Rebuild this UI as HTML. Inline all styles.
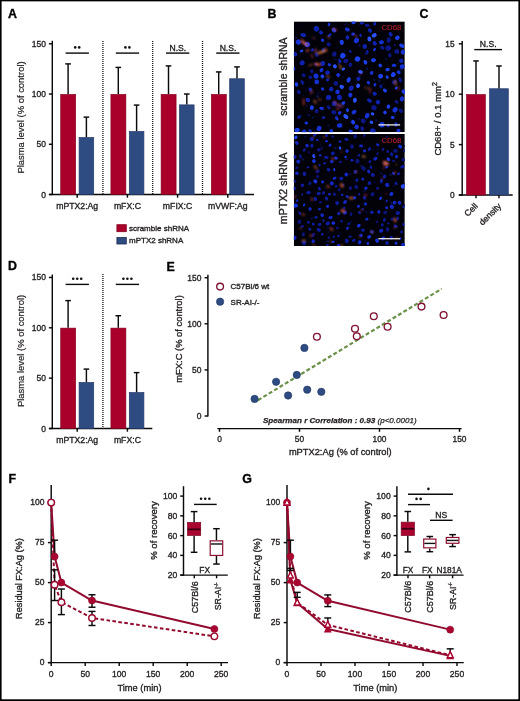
<!DOCTYPE html>
<html><head><meta charset="utf-8"><title>Figure</title>
<style>
html,body{margin:0;padding:0;background:#fff;}
body{width:520px;height:701px;overflow:hidden;}
svg{display:block;will-change:transform;font-family:"Liberation Sans", sans-serif;}
</style></head><body>
<svg width="520" height="701" viewBox="0 0 520 701">
<defs>
<filter id="bl" x="-10%" y="-10%" width="120%" height="120%"><feGaussianBlur stdDeviation="0.55"/></filter>
<filter id="bl2" x="-10%" y="-10%" width="120%" height="120%"><feGaussianBlur stdDeviation="0.9"/></filter>
<filter id="bl3" x="-10%" y="-10%" width="120%" height="120%"><feGaussianBlur stdDeviation="1.5"/></filter>
<clipPath id="clip1"><rect x="293.8" y="21.4" width="111" height="110.8"/></clipPath>
<clipPath id="clip2"><rect x="293.8" y="134.0" width="111" height="112"/></clipPath>
</defs>
<text x="8.1" y="18.1" font-size="12.4" text-anchor="start" font-weight="bold" fill="#000" stroke="#000" stroke-width="0.34">A</text>
<text x="267.5" y="18.1" font-size="12.4" text-anchor="start" font-weight="bold" fill="#000" stroke="#000" stroke-width="0.34">B</text>
<text x="419.5" y="18.1" font-size="12.4" text-anchor="start" font-weight="bold" fill="#000" stroke="#000" stroke-width="0.34">C</text>
<text x="8.1" y="270.3" font-size="12.4" text-anchor="start" font-weight="bold" fill="#000" stroke="#000" stroke-width="0.34">D</text>
<text x="166.6" y="271" font-size="12.4" text-anchor="start" font-weight="bold" fill="#000" stroke="#000" stroke-width="0.34">E</text>
<text x="8.6" y="483" font-size="12.4" text-anchor="start" font-weight="bold" fill="#000" stroke="#000" stroke-width="0.34">F</text>
<text x="242.3" y="483" font-size="12.4" text-anchor="start" font-weight="bold" fill="#000" stroke="#000" stroke-width="0.34">G</text>
<line x1="52.3" y1="40.8" x2="52.3" y2="195.1" stroke="#0a0a0a" stroke-width="1.45" stroke-linecap="butt"/>
<line x1="48.9" y1="194.5" x2="52.3" y2="194.5" stroke="#0a0a0a" stroke-width="1.45" stroke-linecap="butt"/>
<text x="45.9" y="197.5" font-size="8.5" text-anchor="end" font-weight="normal" fill="#231f20" stroke="#231f20" stroke-width="0.34">0</text>
<line x1="48.9" y1="144.26" x2="52.3" y2="144.26" stroke="#0a0a0a" stroke-width="1.45" stroke-linecap="butt"/>
<text x="45.9" y="147.26" font-size="8.5" text-anchor="end" font-weight="normal" fill="#231f20" stroke="#231f20" stroke-width="0.34">50</text>
<line x1="48.9" y1="94.03" x2="52.3" y2="94.03" stroke="#0a0a0a" stroke-width="1.45" stroke-linecap="butt"/>
<text x="45.9" y="97.03" font-size="8.5" text-anchor="end" font-weight="normal" fill="#231f20" stroke="#231f20" stroke-width="0.34">100</text>
<line x1="48.9" y1="43.8" x2="52.3" y2="43.8" stroke="#0a0a0a" stroke-width="1.45" stroke-linecap="butt"/>
<text x="45.9" y="46.8" font-size="8.5" text-anchor="end" font-weight="normal" fill="#231f20" stroke="#231f20" stroke-width="0.34">150</text>
<line x1="48.9" y1="194.5" x2="254" y2="194.5" stroke="#0a0a0a" stroke-width="1.45" stroke-linecap="butt"/>
<rect x="60.7" y="94.33" width="15" height="100.17" fill="#a8002a" stroke="#85001f" stroke-width="0.6"/>
<rect x="79.1" y="137.53" width="14.6" height="56.97" fill="#2f4c82" stroke="#24396a" stroke-width="0.7"/>
<line x1="68.1" y1="94.03" x2="68.1" y2="63.89" stroke="#0a0a0a" stroke-width="1.45" stroke-linecap="butt"/>
<line x1="65.3" y1="63.89" x2="70.9" y2="63.89" stroke="#0a0a0a" stroke-width="1.45" stroke-linecap="butt"/>
<line x1="86.4" y1="137.23" x2="86.4" y2="117.14" stroke="#0a0a0a" stroke-width="1.45" stroke-linecap="butt"/>
<line x1="83.6" y1="117.14" x2="89.2" y2="117.14" stroke="#0a0a0a" stroke-width="1.45" stroke-linecap="butt"/>
<line x1="77.2" y1="194.5" x2="77.2" y2="197.7" stroke="#0a0a0a" stroke-width="1.45" stroke-linecap="butt"/>
<text x="77.2" y="209.1" font-size="8.7" text-anchor="middle" font-weight="normal" fill="#231f20" stroke="#231f20" stroke-width="0.34">mPTX2:Ag</text>
<line x1="65.6" y1="53.1" x2="88.9" y2="53.1" stroke="#0a0a0a" stroke-width="1.4" stroke-linecap="butt"/>
<circle cx="75.2" cy="47.4" r="1.3" fill="#111"/>
<circle cx="79.2" cy="47.4" r="1.3" fill="#111"/>
<line x1="102.9" y1="41" x2="102.9" y2="194.5" stroke="#111" stroke-width="1.3" stroke-linecap="butt" stroke-dasharray="1 1"/>
<rect x="110.9" y="94.33" width="15" height="100.17" fill="#a8002a" stroke="#85001f" stroke-width="0.6"/>
<rect x="129.3" y="131.5" width="14.6" height="63" fill="#2f4c82" stroke="#24396a" stroke-width="0.7"/>
<line x1="118.3" y1="94.03" x2="118.3" y2="67.41" stroke="#0a0a0a" stroke-width="1.45" stroke-linecap="butt"/>
<line x1="115.5" y1="67.41" x2="121.1" y2="67.41" stroke="#0a0a0a" stroke-width="1.45" stroke-linecap="butt"/>
<line x1="136.6" y1="131.2" x2="136.6" y2="105.08" stroke="#0a0a0a" stroke-width="1.45" stroke-linecap="butt"/>
<line x1="133.8" y1="105.08" x2="139.4" y2="105.08" stroke="#0a0a0a" stroke-width="1.45" stroke-linecap="butt"/>
<line x1="127.4" y1="194.5" x2="127.4" y2="197.7" stroke="#0a0a0a" stroke-width="1.45" stroke-linecap="butt"/>
<text x="127.4" y="209.1" font-size="8.7" text-anchor="middle" font-weight="normal" fill="#231f20" stroke="#231f20" stroke-width="0.34">mFX:C</text>
<line x1="115.8" y1="53.1" x2="139.1" y2="53.1" stroke="#0a0a0a" stroke-width="1.4" stroke-linecap="butt"/>
<circle cx="125.4" cy="47.4" r="1.3" fill="#111"/>
<circle cx="129.4" cy="47.4" r="1.3" fill="#111"/>
<line x1="152.7" y1="41" x2="152.7" y2="194.5" stroke="#111" stroke-width="1.3" stroke-linecap="butt" stroke-dasharray="1 1"/>
<rect x="161.1" y="94.33" width="15" height="100.17" fill="#a8002a" stroke="#85001f" stroke-width="0.6"/>
<rect x="179.5" y="104.88" width="14.6" height="89.62" fill="#2f4c82" stroke="#24396a" stroke-width="0.7"/>
<line x1="168.5" y1="94.03" x2="168.5" y2="65.9" stroke="#0a0a0a" stroke-width="1.45" stroke-linecap="butt"/>
<line x1="165.7" y1="65.9" x2="171.3" y2="65.9" stroke="#0a0a0a" stroke-width="1.45" stroke-linecap="butt"/>
<line x1="186.8" y1="104.58" x2="186.8" y2="94.03" stroke="#0a0a0a" stroke-width="1.45" stroke-linecap="butt"/>
<line x1="184" y1="94.03" x2="189.6" y2="94.03" stroke="#0a0a0a" stroke-width="1.45" stroke-linecap="butt"/>
<line x1="177.6" y1="194.5" x2="177.6" y2="197.7" stroke="#0a0a0a" stroke-width="1.45" stroke-linecap="butt"/>
<text x="177.6" y="209.1" font-size="8.7" text-anchor="middle" font-weight="normal" fill="#231f20" stroke="#231f20" stroke-width="0.34">mFIX:C</text>
<line x1="166" y1="53.1" x2="189.3" y2="53.1" stroke="#0a0a0a" stroke-width="1.4" stroke-linecap="butt"/>
<text x="177.8" y="50.6" font-size="8.6" text-anchor="middle" font-weight="normal" fill="#231f20" stroke="#231f20" stroke-width="0.34">N.S.</text>
<line x1="202.5" y1="41" x2="202.5" y2="194.5" stroke="#111" stroke-width="1.3" stroke-linecap="butt" stroke-dasharray="1 1"/>
<rect x="211.3" y="94.33" width="15" height="100.17" fill="#a8002a" stroke="#85001f" stroke-width="0.6"/>
<rect x="229.7" y="78.76" width="14.6" height="115.74" fill="#2f4c82" stroke="#24396a" stroke-width="0.7"/>
<line x1="218.7" y1="94.03" x2="218.7" y2="71.93" stroke="#0a0a0a" stroke-width="1.45" stroke-linecap="butt"/>
<line x1="215.9" y1="71.93" x2="221.5" y2="71.93" stroke="#0a0a0a" stroke-width="1.45" stroke-linecap="butt"/>
<line x1="237" y1="78.46" x2="237" y2="66.9" stroke="#0a0a0a" stroke-width="1.45" stroke-linecap="butt"/>
<line x1="234.2" y1="66.9" x2="239.8" y2="66.9" stroke="#0a0a0a" stroke-width="1.45" stroke-linecap="butt"/>
<line x1="227.8" y1="194.5" x2="227.8" y2="197.7" stroke="#0a0a0a" stroke-width="1.45" stroke-linecap="butt"/>
<text x="227.8" y="209.1" font-size="8.7" text-anchor="middle" font-weight="normal" fill="#231f20" stroke="#231f20" stroke-width="0.34">mVWF:Ag</text>
<line x1="216.2" y1="53.1" x2="239.5" y2="53.1" stroke="#0a0a0a" stroke-width="1.4" stroke-linecap="butt"/>
<text x="228" y="50.6" font-size="8.6" text-anchor="middle" font-weight="normal" fill="#231f20" stroke="#231f20" stroke-width="0.34">N.S.</text>
<rect x="116.9" y="224.7" width="9.4" height="7" fill="#a8002a" stroke="#85001f" stroke-width="0.8"/>
<rect x="116.9" y="237.5" width="9.4" height="6.5" fill="#2f4c82" stroke="#1c2d55" stroke-width="0.8"/>
<text x="129" y="230.7" font-size="8" text-anchor="start" font-weight="normal" fill="#231f20" stroke="#231f20" stroke-width="0.34">scramble shRNA</text>
<text x="129" y="242.6" font-size="8" text-anchor="start" font-weight="normal" fill="#231f20" stroke="#231f20" stroke-width="0.34">mPTX2 shRNA</text>
<text x="24.4" y="117.5" font-size="9.45" text-anchor="middle" font-weight="normal" fill="#231f20" stroke="#231f20" stroke-width="0.2" transform="rotate(-90 24.4 117.5)">Plasma level (% of control)</text>
<line x1="52.3" y1="274.5" x2="52.3" y2="429.1" stroke="#0a0a0a" stroke-width="1.45" stroke-linecap="butt"/>
<line x1="48.9" y1="428.5" x2="52.3" y2="428.5" stroke="#0a0a0a" stroke-width="1.45" stroke-linecap="butt"/>
<text x="45.9" y="431.5" font-size="8.5" text-anchor="end" font-weight="normal" fill="#231f20" stroke="#231f20" stroke-width="0.34">0</text>
<line x1="48.9" y1="378.15" x2="52.3" y2="378.15" stroke="#0a0a0a" stroke-width="1.45" stroke-linecap="butt"/>
<text x="45.9" y="381.15" font-size="8.5" text-anchor="end" font-weight="normal" fill="#231f20" stroke="#231f20" stroke-width="0.34">50</text>
<line x1="48.9" y1="327.8" x2="52.3" y2="327.8" stroke="#0a0a0a" stroke-width="1.45" stroke-linecap="butt"/>
<text x="45.9" y="330.8" font-size="8.5" text-anchor="end" font-weight="normal" fill="#231f20" stroke="#231f20" stroke-width="0.34">100</text>
<line x1="48.9" y1="277.45" x2="52.3" y2="277.45" stroke="#0a0a0a" stroke-width="1.45" stroke-linecap="butt"/>
<text x="45.9" y="280.45" font-size="8.5" text-anchor="end" font-weight="normal" fill="#231f20" stroke="#231f20" stroke-width="0.34">150</text>
<line x1="48.9" y1="428.5" x2="152.3" y2="428.5" stroke="#0a0a0a" stroke-width="1.45" stroke-linecap="butt"/>
<rect x="60.7" y="328.1" width="15" height="100.4" fill="#a8002a" stroke="#85001f" stroke-width="0.6"/>
<rect x="79.1" y="382.48" width="14.6" height="46.02" fill="#2f4c82" stroke="#24396a" stroke-width="0.7"/>
<line x1="68.1" y1="327.8" x2="68.1" y2="300.61" stroke="#0a0a0a" stroke-width="1.45" stroke-linecap="butt"/>
<line x1="65.3" y1="300.61" x2="70.9" y2="300.61" stroke="#0a0a0a" stroke-width="1.45" stroke-linecap="butt"/>
<line x1="86.4" y1="382.18" x2="86.4" y2="369.09" stroke="#0a0a0a" stroke-width="1.45" stroke-linecap="butt"/>
<line x1="83.6" y1="369.09" x2="89.2" y2="369.09" stroke="#0a0a0a" stroke-width="1.45" stroke-linecap="butt"/>
<line x1="77.2" y1="428.5" x2="77.2" y2="431.7" stroke="#0a0a0a" stroke-width="1.45" stroke-linecap="butt"/>
<text x="77.2" y="443.3" font-size="8.7" text-anchor="middle" font-weight="normal" fill="#231f20" stroke="#231f20" stroke-width="0.34">mPTX2:Ag</text>
<line x1="65.6" y1="284.4" x2="88.9" y2="284.4" stroke="#0a0a0a" stroke-width="1.4" stroke-linecap="butt"/>
<circle cx="73.2" cy="278.7" r="1.3" fill="#111"/>
<circle cx="77.2" cy="278.7" r="1.3" fill="#111"/>
<circle cx="81.2" cy="278.7" r="1.3" fill="#111"/>
<line x1="102.9" y1="274" x2="102.9" y2="428.5" stroke="#111" stroke-width="1.3" stroke-linecap="butt" stroke-dasharray="1 1"/>
<rect x="110.9" y="328.1" width="15" height="100.4" fill="#a8002a" stroke="#85001f" stroke-width="0.6"/>
<rect x="129.3" y="392.55" width="14.6" height="35.95" fill="#2f4c82" stroke="#24396a" stroke-width="0.7"/>
<line x1="118.3" y1="327.8" x2="118.3" y2="315.72" stroke="#0a0a0a" stroke-width="1.45" stroke-linecap="butt"/>
<line x1="115.5" y1="315.72" x2="121.1" y2="315.72" stroke="#0a0a0a" stroke-width="1.45" stroke-linecap="butt"/>
<line x1="136.6" y1="392.25" x2="136.6" y2="372.61" stroke="#0a0a0a" stroke-width="1.45" stroke-linecap="butt"/>
<line x1="133.8" y1="372.61" x2="139.4" y2="372.61" stroke="#0a0a0a" stroke-width="1.45" stroke-linecap="butt"/>
<line x1="127.4" y1="428.5" x2="127.4" y2="431.7" stroke="#0a0a0a" stroke-width="1.45" stroke-linecap="butt"/>
<text x="127.4" y="443.3" font-size="8.7" text-anchor="middle" font-weight="normal" fill="#231f20" stroke="#231f20" stroke-width="0.34">mFX:C</text>
<line x1="115.8" y1="284.4" x2="139.1" y2="284.4" stroke="#0a0a0a" stroke-width="1.4" stroke-linecap="butt"/>
<circle cx="123.4" cy="278.7" r="1.3" fill="#111"/>
<circle cx="127.4" cy="278.7" r="1.3" fill="#111"/>
<circle cx="131.4" cy="278.7" r="1.3" fill="#111"/>
<text x="24.4" y="351" font-size="9.45" text-anchor="middle" font-weight="normal" fill="#231f20" stroke="#231f20" stroke-width="0.2" transform="rotate(-90 24.4 351)">Plasma level (% of control)</text>
<line x1="462.2" y1="41" x2="462.2" y2="195.6" stroke="#0a0a0a" stroke-width="1.45" stroke-linecap="butt"/>
<line x1="458.8" y1="195" x2="462.2" y2="195" stroke="#0a0a0a" stroke-width="1.45" stroke-linecap="butt"/>
<text x="454.6" y="198" font-size="8.3" text-anchor="end" font-weight="normal" fill="#231f20" stroke="#231f20" stroke-width="0.34">0</text>
<line x1="458.8" y1="144.6" x2="462.2" y2="144.6" stroke="#0a0a0a" stroke-width="1.45" stroke-linecap="butt"/>
<text x="454.6" y="147.6" font-size="8.3" text-anchor="end" font-weight="normal" fill="#231f20" stroke="#231f20" stroke-width="0.34">5</text>
<line x1="458.8" y1="94.2" x2="462.2" y2="94.2" stroke="#0a0a0a" stroke-width="1.45" stroke-linecap="butt"/>
<text x="454.6" y="97.2" font-size="8.3" text-anchor="end" font-weight="normal" fill="#231f20" stroke="#231f20" stroke-width="0.34">10</text>
<line x1="458.8" y1="43.8" x2="462.2" y2="43.8" stroke="#0a0a0a" stroke-width="1.45" stroke-linecap="butt"/>
<text x="454.6" y="46.8" font-size="8.3" text-anchor="end" font-weight="normal" fill="#231f20" stroke="#231f20" stroke-width="0.34">15</text>
<line x1="458.8" y1="195" x2="512.7" y2="195" stroke="#0a0a0a" stroke-width="1.45" stroke-linecap="butt"/>
<rect x="466.5" y="94.5" width="18.9" height="100.5" fill="#a8002a" stroke="#85001f" stroke-width="0.6"/>
<rect x="489.6" y="88.75" width="18.7" height="106.25" fill="#2f4c82" stroke="#24396a" stroke-width="0.7"/>
<line x1="476" y1="94.2" x2="476" y2="60.94" stroke="#0a0a0a" stroke-width="1.45" stroke-linecap="butt"/>
<line x1="473.2" y1="60.94" x2="478.8" y2="60.94" stroke="#0a0a0a" stroke-width="1.45" stroke-linecap="butt"/>
<line x1="499" y1="88.45" x2="499" y2="65.98" stroke="#0a0a0a" stroke-width="1.45" stroke-linecap="butt"/>
<line x1="496.2" y1="65.98" x2="501.8" y2="65.98" stroke="#0a0a0a" stroke-width="1.45" stroke-linecap="butt"/>
<line x1="476" y1="195" x2="476" y2="198.2" stroke="#0a0a0a" stroke-width="1.45" stroke-linecap="butt"/>
<line x1="499" y1="195" x2="499" y2="198.2" stroke="#0a0a0a" stroke-width="1.45" stroke-linecap="butt"/>
<line x1="474.3" y1="49.6" x2="502" y2="49.6" stroke="#0a0a0a" stroke-width="1.4" stroke-linecap="butt"/>
<text x="488.2" y="47" font-size="8.6" text-anchor="middle" font-weight="normal" fill="#231f20" stroke="#231f20" stroke-width="0.34">N.S.</text>
<text x="478.3" y="206.6" font-size="8.6" text-anchor="end" font-weight="normal" fill="#231f20" stroke="#231f20" stroke-width="0.34" transform="rotate(-45 478.3 206.6)">Cell</text>
<text x="501.8" y="206.6" font-size="8.6" text-anchor="end" font-weight="normal" fill="#231f20" stroke="#231f20" stroke-width="0.34" transform="rotate(-45 501.8 206.6)">density</text>
<text x="440.9" y="118.8" font-size="9.5" text-anchor="middle" fill="#231f20" stroke="#231f20" stroke-width="0.34" transform="rotate(-90 440.9 118.8)">CD68+ / 0.1 mm<tspan font-size="7.0" dy="-4.3" dx="0.3">2</tspan></text>
<g clip-path="url(#clip1)">
<rect x="293.8" y="21.4" width="111" height="110.8" fill="#020208"/>
<g filter="url(#bl3)"></g>
<g filter="url(#bl)"><circle cx="308.71" cy="115.3" r="1.29" fill="#0a1050"/><circle cx="306.89" cy="105.71" r="1.03" fill="#0a0e3c"/><circle cx="381.35" cy="31.8" r="0.63" fill="#0a0e3c"/><circle cx="341.84" cy="105.86" r="0.6" fill="#0a0e3c"/><circle cx="323.36" cy="110.24" r="1.13" fill="#060a34"/><circle cx="393.86" cy="24.79" r="0.62" fill="#060a34"/><circle cx="398.05" cy="63.64" r="0.79" fill="#0a0e3c"/><circle cx="374.37" cy="79.86" r="1.29" fill="#0a0e3c"/><circle cx="355.17" cy="59.7" r="1.21" fill="#0a0e3c"/><circle cx="399.5" cy="124.06" r="0.97" fill="#060a34"/><circle cx="314.44" cy="131.37" r="1.37" fill="#060a34"/><circle cx="376.29" cy="120.63" r="1.48" fill="#0a0e3c"/><circle cx="350.16" cy="122.25" r="0.77" fill="#0a1050"/><circle cx="359.02" cy="119.18" r="1.36" fill="#0a0e3c"/><circle cx="359.18" cy="25.23" r="0.82" fill="#0a0e3c"/><circle cx="339.79" cy="40.57" r="1.09" fill="#0a1050"/><circle cx="303.4" cy="94.94" r="0.7" fill="#080e44"/><circle cx="351.62" cy="64.97" r="1.04" fill="#060a34"/><circle cx="345.89" cy="55.59" r="1.36" fill="#0a0e3c"/><circle cx="365.63" cy="40.08" r="0.8" fill="#060a34"/><circle cx="379.33" cy="81.19" r="1.37" fill="#080e44"/><circle cx="338.69" cy="59.5" r="1.36" fill="#0a1050"/><circle cx="344.76" cy="51.24" r="1.09" fill="#060a34"/><circle cx="336.39" cy="116.35" r="1.46" fill="#080e44"/><circle cx="351.37" cy="83.6" r="0.98" fill="#060a34"/><circle cx="347.2" cy="61.81" r="1.1" fill="#0a0e3c"/><circle cx="347.63" cy="60.93" r="0.91" fill="#0a1050"/><circle cx="344.65" cy="24.5" r="0.81" fill="#080e44"/><circle cx="354.93" cy="41.43" r="0.68" fill="#0a1050"/><circle cx="297.4" cy="125.95" r="0.66" fill="#060a34"/><circle cx="344.08" cy="104.96" r="0.85" fill="#0a1050"/><circle cx="305.95" cy="90.63" r="0.91" fill="#060a34"/><circle cx="312.39" cy="49.68" r="1.46" fill="#0a1050"/><circle cx="365.75" cy="54.03" r="1.23" fill="#0a0e3c"/><circle cx="346.39" cy="24.02" r="0.95" fill="#0a0e3c"/><circle cx="382.18" cy="50.03" r="0.83" fill="#080e44"/><circle cx="400.98" cy="69.23" r="1.48" fill="#080e44"/><circle cx="295.78" cy="37.63" r="1.25" fill="#080e44"/><circle cx="343.27" cy="77.5" r="0.98" fill="#080e44"/><circle cx="402.24" cy="91.29" r="1.23" fill="#0a0e3c"/><circle cx="318.57" cy="93.25" r="0.96" fill="#0a1050"/><circle cx="367.04" cy="68.63" r="1.26" fill="#080e44"/><circle cx="401.24" cy="118.41" r="0.88" fill="#060a34"/><circle cx="328.25" cy="125.47" r="1.27" fill="#0a0e3c"/><circle cx="356.51" cy="35.85" r="1.1" fill="#060a34"/><circle cx="359.35" cy="45.51" r="1.41" fill="#0a0e3c"/><circle cx="312.84" cy="117.55" r="1.48" fill="#060a34"/><circle cx="335.75" cy="59.84" r="0.79" fill="#0a0e3c"/><circle cx="359.45" cy="75.95" r="1.44" fill="#0a0e3c"/><circle cx="326.66" cy="76.78" r="0.89" fill="#0a0e3c"/><circle cx="393.66" cy="23.4" r="0.78" fill="#0a1050"/><circle cx="383.84" cy="83.82" r="0.72" fill="#0a0e3c"/><circle cx="317.45" cy="96.13" r="1.35" fill="#0a1050"/><circle cx="395.3" cy="114.22" r="1.08" fill="#080e44"/><circle cx="301.05" cy="25.88" r="0.72" fill="#080e44"/><circle cx="394.92" cy="45" r="1.28" fill="#0a1050"/><circle cx="334.66" cy="59.1" r="0.86" fill="#0a0e3c"/><circle cx="308.82" cy="82.47" r="0.69" fill="#060a34"/><circle cx="338.93" cy="63.53" r="1.49" fill="#080e44"/><circle cx="385.76" cy="59.17" r="1.15" fill="#0a0e3c"/></g>
<g filter="url(#bl)"><ellipse cx="302.31" cy="82.37" rx="2.43" ry="1.68" fill="#0c1888" transform="rotate(61 302.31 82.37)"/><ellipse cx="356.62" cy="126.91" rx="2.32" ry="2.23" fill="#1630d4" transform="rotate(112 356.62 126.91)"/><ellipse cx="334.3" cy="54.15" rx="2.61" ry="2.13" fill="#0c1888" transform="rotate(104 334.3 54.15)"/><ellipse cx="353.11" cy="34.07" rx="1.95" ry="1.54" fill="#1630d4" transform="rotate(171 353.11 34.07)"/><ellipse cx="361.92" cy="23.01" rx="1.97" ry="1.51" fill="#1024b0" transform="rotate(175 361.92 23.01)"/><ellipse cx="339.7" cy="112.93" rx="1.99" ry="1.55" fill="#1630d4" transform="rotate(133 339.7 112.93)"/><ellipse cx="381.48" cy="42.22" rx="2.48" ry="1.99" fill="#1630d4" transform="rotate(168 381.48 42.22)"/><ellipse cx="380.99" cy="86.42" rx="2.18" ry="1.62" fill="#0c1888" transform="rotate(87 380.99 86.42)"/><ellipse cx="311.78" cy="71.36" rx="1.85" ry="1.72" fill="#0c1888" transform="rotate(74 311.78 71.36)"/><ellipse cx="369.38" cy="39.01" rx="2.48" ry="1.94" fill="#2c52ff" transform="rotate(82 369.38 39.01)"/><ellipse cx="387.6" cy="69.61" rx="2.3" ry="1.62" fill="#1c40ee" transform="rotate(165 387.6 69.61)"/><ellipse cx="400.88" cy="110.76" rx="2.33" ry="1.89" fill="#0c1888" transform="rotate(45 400.88 110.76)"/><ellipse cx="354.06" cy="112.07" rx="2.67" ry="1.95" fill="#1630d4" transform="rotate(142 354.06 112.07)"/><ellipse cx="354.87" cy="100.25" rx="2.53" ry="1.87" fill="#2c52ff" transform="rotate(97 354.87 100.25)"/><ellipse cx="328.71" cy="44.4" rx="2.21" ry="1.95" fill="#0c1888" transform="rotate(32 328.71 44.4)"/><ellipse cx="329.03" cy="24.42" rx="1.79" ry="1.27" fill="#1630d4" transform="rotate(100 329.03 24.42)"/><ellipse cx="396.54" cy="101.89" rx="2.15" ry="1.58" fill="#0c1888" transform="rotate(39 396.54 101.89)"/><ellipse cx="329.35" cy="64.75" rx="1.75" ry="1.45" fill="#1630d4" transform="rotate(34 329.35 64.75)"/><ellipse cx="360.56" cy="71.91" rx="2.43" ry="1.92" fill="#2c52ff" transform="rotate(13 360.56 71.91)"/><ellipse cx="321.56" cy="108.39" rx="2.26" ry="1.54" fill="#1630d4" transform="rotate(8 321.56 108.39)"/><ellipse cx="392.72" cy="117.53" rx="1.81" ry="1.51" fill="#1c40ee" transform="rotate(8 392.72 117.53)"/><ellipse cx="345.85" cy="60.83" rx="2.63" ry="2.14" fill="#0c1888" transform="rotate(154 345.85 60.83)"/><ellipse cx="333.81" cy="112.25" rx="2.57" ry="2.17" fill="#0c1888" transform="rotate(23 333.81 112.25)"/><ellipse cx="357.55" cy="58.95" rx="2.69" ry="2.68" fill="#1c40ee" transform="rotate(114 357.55 58.95)"/><ellipse cx="319.04" cy="128.5" rx="2.66" ry="2.38" fill="#1630d4" transform="rotate(125 319.04 128.5)"/><ellipse cx="298.36" cy="42.1" rx="2.67" ry="2.6" fill="#1630d4" transform="rotate(50 298.36 42.1)"/><ellipse cx="321.09" cy="32.58" rx="2.01" ry="1.81" fill="#1024b0" transform="rotate(31 321.09 32.58)"/><ellipse cx="323.56" cy="117.53" rx="1.8" ry="1.33" fill="#1024b0" transform="rotate(167 323.56 117.53)"/><ellipse cx="374.74" cy="23.78" rx="2" ry="1.31" fill="#1024b0" transform="rotate(101 374.74 23.78)"/><ellipse cx="345.84" cy="116.59" rx="2.84" ry="1.92" fill="#2c52ff" transform="rotate(40 345.84 116.59)"/><ellipse cx="350.33" cy="95.11" rx="2.4" ry="2.16" fill="#1630d4" transform="rotate(97 350.33 95.11)"/><ellipse cx="389.88" cy="55.26" rx="1.99" ry="1.79" fill="#0c1888" transform="rotate(82 389.88 55.26)"/><ellipse cx="372.53" cy="113.88" rx="1.8" ry="1.59" fill="#2c52ff" transform="rotate(27 372.53 113.88)"/><ellipse cx="360.61" cy="35.39" rx="1.74" ry="1.21" fill="#1024b0" transform="rotate(75 360.61 35.39)"/><ellipse cx="316.75" cy="81.84" rx="2.42" ry="2.35" fill="#1630d4" transform="rotate(98 316.75 81.84)"/><ellipse cx="374.01" cy="107.8" rx="2.72" ry="2.45" fill="#0c1888" transform="rotate(36 374.01 107.8)"/><ellipse cx="384.93" cy="90.49" rx="2.18" ry="1.64" fill="#1c40ee" transform="rotate(32 384.93 90.49)"/><ellipse cx="368.41" cy="82.67" rx="1.87" ry="1.55" fill="#1630d4" transform="rotate(52 368.41 82.67)"/><ellipse cx="398.53" cy="130.75" rx="2.06" ry="1.92" fill="#1630d4" transform="rotate(3 398.53 130.75)"/><ellipse cx="316.6" cy="54.52" rx="2.45" ry="1.97" fill="#0c1888" transform="rotate(67 316.6 54.52)"/><ellipse cx="299.19" cy="116.92" rx="2.44" ry="1.72" fill="#0c1888" transform="rotate(140 299.19 116.92)"/><ellipse cx="343.38" cy="69.06" rx="1.86" ry="1.28" fill="#2c52ff" transform="rotate(147 343.38 69.06)"/><ellipse cx="321.57" cy="70.09" rx="2.22" ry="1.84" fill="#1630d4" transform="rotate(134 321.57 70.09)"/><ellipse cx="353.52" cy="22.6" rx="2.18" ry="1.58" fill="#1c40ee" transform="rotate(177 353.52 22.6)"/><ellipse cx="381.83" cy="124.74" rx="2.84" ry="2.65" fill="#1630d4" transform="rotate(93 381.83 124.74)"/><ellipse cx="402.94" cy="52.08" rx="2.39" ry="2.23" fill="#1630d4" transform="rotate(129 402.94 52.08)"/><ellipse cx="356.41" cy="40.48" rx="2.88" ry="2.42" fill="#1630d4" transform="rotate(119 356.41 40.48)"/><ellipse cx="303.71" cy="75.25" rx="1.98" ry="1.75" fill="#0c1888" transform="rotate(30 303.71 75.25)"/><ellipse cx="395.97" cy="124.46" rx="2.37" ry="1.76" fill="#1024b0" transform="rotate(73 395.97 124.46)"/><ellipse cx="364.74" cy="46.41" rx="2.49" ry="2.21" fill="#1024b0" transform="rotate(88 364.74 46.41)"/><ellipse cx="328.54" cy="97.51" rx="2.7" ry="2.47" fill="#1024b0" transform="rotate(2 328.54 97.51)"/><ellipse cx="331.2" cy="89.13" rx="2.29" ry="2.14" fill="#1024b0" transform="rotate(131 331.2 89.13)"/><ellipse cx="374.63" cy="93.8" rx="2.1" ry="1.92" fill="#1024b0" transform="rotate(13 374.63 93.8)"/><ellipse cx="401.73" cy="45.72" rx="2.72" ry="1.93" fill="#1c40ee" transform="rotate(33 401.73 45.72)"/><ellipse cx="365.43" cy="62.25" rx="2.3" ry="1.79" fill="#1c40ee" transform="rotate(69 365.43 62.25)"/><ellipse cx="371.64" cy="72.9" rx="1.98" ry="1.81" fill="#1630d4" transform="rotate(105 371.64 72.9)"/><ellipse cx="303.23" cy="35.06" rx="2.88" ry="1.92" fill="#1024b0" transform="rotate(9 303.23 35.06)"/><ellipse cx="380.63" cy="76.25" rx="2.43" ry="2.38" fill="#1c40ee" transform="rotate(153 380.63 76.25)"/><ellipse cx="337.49" cy="91.98" rx="2.26" ry="2.16" fill="#1630d4" transform="rotate(11 337.49 91.98)"/><ellipse cx="362.28" cy="128.52" rx="2.38" ry="1.97" fill="#0c1888" transform="rotate(71 362.28 128.52)"/><ellipse cx="370.02" cy="30.49" rx="2.39" ry="1.85" fill="#1024b0" transform="rotate(48 370.02 30.49)"/><ellipse cx="388.26" cy="48.1" rx="2.85" ry="2.73" fill="#0c1888" transform="rotate(170 388.26 48.1)"/><ellipse cx="388.26" cy="125.55" rx="1.72" ry="1.6" fill="#1024b0" transform="rotate(134 388.26 125.55)"/><ellipse cx="394.08" cy="65.41" rx="2.42" ry="1.63" fill="#1630d4" transform="rotate(179 394.08 65.41)"/><ellipse cx="353.08" cy="122.15" rx="2.43" ry="1.91" fill="#1c40ee" transform="rotate(64 353.08 122.15)"/><ellipse cx="367.12" cy="52.17" rx="2.32" ry="1.54" fill="#0c1888" transform="rotate(104 367.12 52.17)"/><ellipse cx="335.85" cy="83.38" rx="2.34" ry="2.28" fill="#0c1888" transform="rotate(59 335.85 83.38)"/><ellipse cx="400.34" cy="79.94" rx="2.6" ry="1.76" fill="#0c1888" transform="rotate(66 400.34 79.94)"/><ellipse cx="388.71" cy="40.01" rx="2.78" ry="2.13" fill="#0c1888" transform="rotate(97 388.71 40.01)"/><ellipse cx="307.32" cy="44.55" rx="2.8" ry="2.71" fill="#1630d4" transform="rotate(166 307.32 44.55)"/><ellipse cx="316.54" cy="111.21" rx="2.13" ry="1.83" fill="#0c1888" transform="rotate(104 316.54 111.21)"/><ellipse cx="296.48" cy="84.48" rx="2.18" ry="1.7" fill="#1c40ee" transform="rotate(75 296.48 84.48)"/><ellipse cx="295.27" cy="54.24" rx="2.11" ry="1.9" fill="#1024b0" transform="rotate(66 295.27 54.24)"/><ellipse cx="302.15" cy="62.81" rx="2.62" ry="2.4" fill="#1024b0" transform="rotate(142 302.15 62.81)"/><ellipse cx="329.73" cy="35.13" rx="2.18" ry="1.48" fill="#1024b0" transform="rotate(141 329.73 35.13)"/><ellipse cx="373.49" cy="60.2" rx="2.55" ry="2.03" fill="#1c40ee" transform="rotate(171 373.49 60.2)"/><ellipse cx="374.96" cy="84.71" rx="1.85" ry="1.36" fill="#1630d4" transform="rotate(115 374.96 84.71)"/><ellipse cx="306.35" cy="123.09" rx="1.82" ry="1.51" fill="#1630d4" transform="rotate(8 306.35 123.09)"/><ellipse cx="404.23" cy="91.82" rx="2.64" ry="2.22" fill="#1c40ee" transform="rotate(36 404.23 91.82)"/><ellipse cx="374.65" cy="43.44" rx="2.36" ry="1.96" fill="#1024b0" transform="rotate(53 374.65 43.44)"/><ellipse cx="396.29" cy="87.97" rx="1.74" ry="1.16" fill="#1c40ee" transform="rotate(143 396.29 87.97)"/><ellipse cx="372.85" cy="130.82" rx="2.89" ry="2.44" fill="#1024b0" transform="rotate(29 372.85 130.82)"/><ellipse cx="401.97" cy="98.91" rx="2.55" ry="2.13" fill="#1630d4" transform="rotate(113 401.97 98.91)"/><ellipse cx="380.25" cy="65.42" rx="1.92" ry="1.64" fill="#1c40ee" transform="rotate(41 380.25 65.42)"/><ellipse cx="395.11" cy="109.85" rx="2.87" ry="2.32" fill="#1630d4" transform="rotate(129 395.11 109.85)"/><ellipse cx="339.44" cy="97.3" rx="2.64" ry="2.57" fill="#1024b0" transform="rotate(82 339.44 97.3)"/><ellipse cx="327.51" cy="72.6" rx="2.44" ry="2.13" fill="#1024b0" transform="rotate(166 327.51 72.6)"/><ellipse cx="322.59" cy="40.19" rx="1.72" ry="1.66" fill="#1630d4" transform="rotate(29 322.59 40.19)"/><ellipse cx="327.59" cy="79.91" rx="1.75" ry="1.46" fill="#1024b0" transform="rotate(159 327.59 79.91)"/><ellipse cx="371.41" cy="122.27" rx="1.91" ry="1.54" fill="#2c52ff" transform="rotate(36 371.41 122.27)"/><ellipse cx="338.17" cy="74.99" rx="1.99" ry="1.95" fill="#1630d4" transform="rotate(58 338.17 74.99)"/><ellipse cx="322.61" cy="89.03" rx="1.79" ry="1.55" fill="#1630d4" transform="rotate(33 322.61 89.03)"/><ellipse cx="367.15" cy="115.78" rx="2.85" ry="2.21" fill="#1630d4" transform="rotate(110 367.15 115.78)"/><ellipse cx="358.09" cy="85.82" rx="2.28" ry="1.95" fill="#2c52ff" transform="rotate(118 358.09 85.82)"/><ellipse cx="397.36" cy="37.82" rx="2.44" ry="2.09" fill="#1c40ee" transform="rotate(148 397.36 37.82)"/><ellipse cx="398.75" cy="72.3" rx="2.11" ry="1.75" fill="#1630d4" transform="rotate(35 398.75 72.3)"/><ellipse cx="311.84" cy="107.65" rx="2.29" ry="2.02" fill="#1c40ee" transform="rotate(109 311.84 107.65)"/><ellipse cx="342.72" cy="55.72" rx="2.83" ry="2.57" fill="#1c40ee" transform="rotate(107 342.72 55.72)"/><ellipse cx="348.69" cy="79.96" rx="2.79" ry="1.97" fill="#1c40ee" transform="rotate(108 348.69 79.96)"/><ellipse cx="322.42" cy="76.39" rx="2.02" ry="1.86" fill="#1c40ee" transform="rotate(54 322.42 76.39)"/><ellipse cx="336.79" cy="118.49" rx="2.18" ry="1.43" fill="#1630d4" transform="rotate(45 336.79 118.49)"/><ellipse cx="341.81" cy="42.46" rx="2.61" ry="2.02" fill="#1c40ee" transform="rotate(82 341.81 42.46)"/><ellipse cx="323.55" cy="50.19" rx="2.31" ry="1.77" fill="#1024b0" transform="rotate(85 323.55 50.19)"/><ellipse cx="394.26" cy="82" rx="2.89" ry="1.93" fill="#0c1888" transform="rotate(155 394.26 82)"/><ellipse cx="301.58" cy="50.99" rx="1.83" ry="1.36" fill="#1c40ee" transform="rotate(164 301.58 50.99)"/><ellipse cx="298.78" cy="91.99" rx="2.35" ry="1.79" fill="#0c1888" transform="rotate(68 298.78 91.99)"/><ellipse cx="343.32" cy="103.02" rx="2.07" ry="1.38" fill="#1c40ee" transform="rotate(148 343.32 103.02)"/><ellipse cx="322.69" cy="63.52" rx="2.56" ry="2.4" fill="#1024b0" transform="rotate(120 322.69 63.52)"/><ellipse cx="387.19" cy="77.1" rx="1.78" ry="1.41" fill="#1c40ee" transform="rotate(52 387.19 77.1)"/><ellipse cx="350.33" cy="64.73" rx="2.11" ry="1.88" fill="#0c1888" transform="rotate(115 350.33 64.73)"/><ellipse cx="393.23" cy="74.71" rx="2.61" ry="2.28" fill="#1c40ee" transform="rotate(134 393.23 74.71)"/><ellipse cx="358.33" cy="79.02" rx="2.06" ry="2.04" fill="#1024b0" transform="rotate(166 358.33 79.02)"/><ellipse cx="297.16" cy="129.96" rx="2.67" ry="2.12" fill="#1c40ee" transform="rotate(169 297.16 129.96)"/><ellipse cx="316" cy="64.53" rx="1.98" ry="1.44" fill="#0c1888" transform="rotate(43 316 64.53)"/><ellipse cx="334.22" cy="103.57" rx="2.56" ry="2.31" fill="#1024b0" transform="rotate(111 334.22 103.57)"/><ellipse cx="331.39" cy="131.16" rx="2.06" ry="1.85" fill="#1630d4" transform="rotate(64 331.39 131.16)"/><ellipse cx="369.43" cy="100.58" rx="2.52" ry="1.77" fill="#1024b0" transform="rotate(30 369.43 100.58)"/><ellipse cx="316.48" cy="28.8" rx="2.89" ry="2.69" fill="#1024b0" transform="rotate(61 316.48 28.8)"/><ellipse cx="341.76" cy="86.81" rx="2.29" ry="2" fill="#2c52ff" transform="rotate(20 341.76 86.81)"/><ellipse cx="316.04" cy="76.09" rx="2.67" ry="2.52" fill="#1630d4" transform="rotate(77 316.04 76.09)"/><ellipse cx="347.32" cy="29.45" rx="2.6" ry="1.89" fill="#1630d4" transform="rotate(20 347.32 29.45)"/><ellipse cx="402.17" cy="66.53" rx="2.43" ry="2.36" fill="#1630d4" transform="rotate(175 402.17 66.53)"/><ellipse cx="350.69" cy="131.53" rx="2.22" ry="1.91" fill="#1c40ee" transform="rotate(9 350.69 131.53)"/><ellipse cx="328.83" cy="107.44" rx="2.32" ry="1.55" fill="#0c1888" transform="rotate(52 328.83 107.44)"/><ellipse cx="351.28" cy="88.19" rx="2.76" ry="2.2" fill="#1024b0" transform="rotate(121 351.28 88.19)"/><ellipse cx="367.23" cy="25.42" rx="2.56" ry="1.69" fill="#0c1888" transform="rotate(9 367.23 25.42)"/><ellipse cx="388.4" cy="106.56" rx="2.11" ry="1.78" fill="#1c40ee" transform="rotate(110 388.4 106.56)"/><ellipse cx="347.49" cy="37.43" rx="2.26" ry="1.88" fill="#1024b0" transform="rotate(104 347.49 37.43)"/><ellipse cx="310.26" cy="131.65" rx="2.77" ry="1.86" fill="#1024b0" transform="rotate(70 310.26 131.65)"/><ellipse cx="339.63" cy="125.45" rx="2.86" ry="2.19" fill="#1630d4" transform="rotate(6 339.63 125.45)"/><ellipse cx="294.13" cy="68.79" rx="1.84" ry="1.26" fill="#1630d4" transform="rotate(91 294.13 68.79)"/><ellipse cx="310.35" cy="89.39" rx="1.92" ry="1.79" fill="#1024b0" transform="rotate(54 310.35 89.39)"/><ellipse cx="312.35" cy="49.94" rx="1.77" ry="1.19" fill="#1024b0" transform="rotate(130 312.35 49.94)"/><ellipse cx="377.91" cy="102.2" rx="2.23" ry="2.2" fill="#1024b0" transform="rotate(134 377.91 102.2)"/><ellipse cx="350.19" cy="51.35" rx="1.77" ry="1.29" fill="#0c1888" transform="rotate(36 350.19 51.35)"/><ellipse cx="310.39" cy="77.24" rx="1.92" ry="1.74" fill="#0c1888" transform="rotate(9 310.39 77.24)"/><ellipse cx="385.01" cy="112.5" rx="1.8" ry="1.77" fill="#1c40ee" transform="rotate(133 385.01 112.5)"/><ellipse cx="303.99" cy="132.06" rx="2.56" ry="2.31" fill="#1630d4" transform="rotate(156 303.99 132.06)"/><ellipse cx="333.96" cy="30.08" rx="2.57" ry="1.99" fill="#1c40ee" transform="rotate(58 333.96 30.08)"/><ellipse cx="374.18" cy="35.35" rx="2.62" ry="2.05" fill="#2c52ff" transform="rotate(156 374.18 35.35)"/><ellipse cx="396.72" cy="51.44" rx="2.51" ry="2.37" fill="#0c1888" transform="rotate(167 396.72 51.44)"/><ellipse cx="307.79" cy="99.94" rx="2.29" ry="2.01" fill="#1024b0" transform="rotate(32 307.79 99.94)"/><ellipse cx="347.53" cy="110.15" rx="1.99" ry="1.48" fill="#1c40ee" transform="rotate(78 347.53 110.15)"/><ellipse cx="334.89" cy="66.4" rx="2.06" ry="1.94" fill="#2c52ff" transform="rotate(60 334.89 66.4)"/><ellipse cx="401.32" cy="60.89" rx="2.19" ry="2.16" fill="#1024b0" transform="rotate(56 401.32 60.89)"/><ellipse cx="390.59" cy="34.3" rx="2.31" ry="1.75" fill="#1024b0" transform="rotate(54 390.59 34.3)"/><ellipse cx="374.53" cy="49.49" rx="1.85" ry="1.31" fill="#1630d4" transform="rotate(130 374.53 49.49)"/><ellipse cx="363.26" cy="120.94" rx="2.47" ry="2.31" fill="#0c1888" transform="rotate(29 363.26 120.94)"/><ellipse cx="339.86" cy="61.15" rx="2" ry="1.5" fill="#1024b0" transform="rotate(56 339.86 61.15)"/><ellipse cx="382.4" cy="47.78" rx="2.27" ry="1.75" fill="#0c1888" transform="rotate(27 382.4 47.78)"/></g>
<g filter="url(#bl2)"><ellipse cx="313.77" cy="38.03" rx="1.74" ry="0.91" fill="#b04070" opacity="0.56" transform="rotate(28 313.77 38.03)"/><ellipse cx="337.7" cy="108.98" rx="1.79" ry="1.1" fill="#c03050" opacity="0.66" transform="rotate(34 337.7 108.98)"/><ellipse cx="398.49" cy="88.58" rx="2.18" ry="1.19" fill="#c03050" opacity="0.46" transform="rotate(112 398.49 88.58)"/><ellipse cx="310.47" cy="65.01" rx="2.24" ry="0.84" fill="#d06040" opacity="0.65" transform="rotate(159 310.47 65.01)"/><ellipse cx="315.04" cy="101.77" rx="2.32" ry="1.37" fill="#d06040" opacity="0.61" transform="rotate(43 315.04 101.77)"/><ellipse cx="360.7" cy="73.41" rx="1.81" ry="0.88" fill="#c03050" opacity="0.47" transform="rotate(24 360.7 73.41)"/><ellipse cx="307.63" cy="50.54" rx="2.02" ry="1.27" fill="#e05048" opacity="0.66" transform="rotate(162 307.63 50.54)"/><ellipse cx="319.53" cy="99.48" rx="2.43" ry="1.06" fill="#d06040" opacity="0.42" transform="rotate(32 319.53 99.48)"/><ellipse cx="369.51" cy="88.17" rx="1.61" ry="1.09" fill="#d06040" opacity="0.46" transform="rotate(24 369.51 88.17)"/><ellipse cx="328.58" cy="37.25" rx="2.22" ry="0.85" fill="#d06040" opacity="0.59" transform="rotate(42 328.58 37.25)"/><ellipse cx="311.44" cy="91.98" rx="2.4" ry="1.22" fill="#b04070" opacity="0.68" transform="rotate(103 311.44 91.98)"/><ellipse cx="370.06" cy="90.97" rx="2.48" ry="1.1" fill="#c03050" opacity="0.5" transform="rotate(99 370.06 90.97)"/><ellipse cx="315.48" cy="50.55" rx="2.52" ry="1.4" fill="#b04070" opacity="0.58" transform="rotate(119 315.48 50.55)"/><ellipse cx="334.55" cy="102.19" rx="1.87" ry="0.96" fill="#c84038" opacity="0.7" transform="rotate(86 334.55 102.19)"/><ellipse cx="304.7" cy="43.4" rx="4.5" ry="1.4" fill="#f06a7a" opacity="0.85" transform="rotate(35 304.7 43.4)"/><ellipse cx="302" cy="40.5" rx="2" ry="1.1" fill="#c85040" opacity="0.77" transform="rotate(80 302 40.5)"/><ellipse cx="321.7" cy="52" rx="5.5" ry="1.3" fill="#e88040" opacity="0.85" transform="rotate(-20 321.7 52)"/><ellipse cx="326" cy="49.5" rx="2.5" ry="1" fill="#c05030" opacity="0.68" transform="rotate(60 326 49.5)"/><ellipse cx="317.5" cy="64.3" rx="3.5" ry="1.3" fill="#e85a40" opacity="0.85" transform="rotate(10 317.5 64.3)"/><ellipse cx="334.6" cy="29.5" rx="3" ry="1.1" fill="#c03a40" opacity="0.72" transform="rotate(20 334.6 29.5)"/><ellipse cx="340.5" cy="66.9" rx="3" ry="1.1" fill="#c87030" opacity="0.72" transform="rotate(60 340.5 66.9)"/><ellipse cx="355.9" cy="36" rx="2.5" ry="1" fill="#c04040" opacity="0.64" transform="rotate(30 355.9 36)"/><ellipse cx="395.4" cy="82.9" rx="3.5" ry="1.1" fill="#c86a30" opacity="0.72" transform="rotate(80 395.4 82.9)"/><ellipse cx="303.6" cy="102.1" rx="4" ry="1" fill="#c03838" opacity="0.72" transform="rotate(90 303.6 102.1)"/><ellipse cx="339.3" cy="105.3" rx="4.5" ry="1.5" fill="#a04080" opacity="0.68" transform="rotate(20 339.3 105.3)"/><ellipse cx="328.2" cy="76.5" rx="2.5" ry="1" fill="#c86a30" opacity="0.68" transform="rotate(40 328.2 76.5)"/><ellipse cx="312" cy="56" rx="2.5" ry="1" fill="#b84040" opacity="0.59" transform="rotate(70 312 56)"/><ellipse cx="366" cy="88" rx="2" ry="1" fill="#b04848" opacity="0.51" transform="rotate(30 366 88)"/></g>
</g>
<line x1="378.4" y1="124.9" x2="400.1" y2="124.9" stroke="#e8e8e8" stroke-width="1.3" stroke-linecap="butt"/>
<text x="401.4" y="30.4" font-size="7.8" text-anchor="end" font-weight="normal" fill="#b8202e" stroke="#b8202e" stroke-width="0.1">CD68</text>
<g clip-path="url(#clip2)">
<rect x="293.8" y="134" width="111" height="112" fill="#020208"/>
<g filter="url(#bl3)"></g>
<g filter="url(#bl)"><circle cx="399.92" cy="240.16" r="0.65" fill="#060a34"/><circle cx="333.88" cy="152.94" r="1.33" fill="#0a1050"/><circle cx="321.73" cy="157.77" r="0.63" fill="#080e44"/><circle cx="404.77" cy="205.51" r="1.32" fill="#0a1050"/><circle cx="354.2" cy="183.82" r="0.84" fill="#060a34"/><circle cx="390.48" cy="174.77" r="1.44" fill="#0a0e3c"/><circle cx="340.82" cy="233.02" r="0.75" fill="#080e44"/><circle cx="320.01" cy="136.67" r="0.89" fill="#080e44"/><circle cx="350.43" cy="174.29" r="1.06" fill="#080e44"/><circle cx="404.26" cy="183.91" r="0.97" fill="#0a1050"/><circle cx="381.46" cy="173.62" r="1.48" fill="#0a0e3c"/><circle cx="311.69" cy="218.45" r="1.24" fill="#0a0e3c"/><circle cx="366.5" cy="161.99" r="0.85" fill="#0a0e3c"/><circle cx="349.39" cy="227.13" r="0.92" fill="#0a0e3c"/><circle cx="393.67" cy="185.63" r="1.11" fill="#0a0e3c"/><circle cx="347.81" cy="158.84" r="0.89" fill="#080e44"/><circle cx="391.11" cy="203.03" r="1.3" fill="#0a0e3c"/><circle cx="328.16" cy="241.22" r="1.24" fill="#0a0e3c"/><circle cx="328.41" cy="157.28" r="1.06" fill="#060a34"/><circle cx="380.86" cy="172.24" r="0.61" fill="#080e44"/><circle cx="404.47" cy="145.89" r="1.12" fill="#060a34"/><circle cx="324.11" cy="159.38" r="1.39" fill="#060a34"/><circle cx="377.54" cy="149.29" r="0.84" fill="#080e44"/><circle cx="398.54" cy="140.76" r="1.41" fill="#060a34"/><circle cx="300.1" cy="174.34" r="0.82" fill="#060a34"/><circle cx="303" cy="240.91" r="0.62" fill="#060a34"/><circle cx="335.21" cy="148.31" r="1.44" fill="#080e44"/><circle cx="351.86" cy="134.22" r="1.13" fill="#080e44"/><circle cx="310.61" cy="138.06" r="0.91" fill="#060a34"/><circle cx="325.55" cy="188.74" r="0.88" fill="#060a34"/><circle cx="393.92" cy="218.63" r="1.38" fill="#080e44"/><circle cx="346.28" cy="159.26" r="1.19" fill="#0a1050"/><circle cx="386.86" cy="136.71" r="1.31" fill="#080e44"/><circle cx="351.33" cy="221.48" r="1.04" fill="#0a1050"/><circle cx="309.77" cy="241.49" r="0.83" fill="#0a0e3c"/><circle cx="366.32" cy="212.34" r="1.46" fill="#060a34"/><circle cx="321.88" cy="148.75" r="0.75" fill="#0a0e3c"/><circle cx="364.29" cy="190.93" r="1.49" fill="#060a34"/><circle cx="404.19" cy="160.04" r="1" fill="#0a1050"/><circle cx="302.73" cy="159.56" r="1.31" fill="#0a1050"/><circle cx="322.28" cy="181.38" r="1.07" fill="#060a34"/><circle cx="310.57" cy="177.09" r="0.74" fill="#060a34"/><circle cx="320.54" cy="145.17" r="0.76" fill="#080e44"/><circle cx="305.48" cy="136.74" r="1.2" fill="#0a0e3c"/><circle cx="328.18" cy="205.88" r="0.79" fill="#080e44"/><circle cx="374.71" cy="182.58" r="1.06" fill="#060a34"/><circle cx="391.64" cy="238.03" r="1.12" fill="#060a34"/><circle cx="367.43" cy="187.74" r="0.62" fill="#060a34"/><circle cx="361.57" cy="166.43" r="1.49" fill="#0a1050"/><circle cx="328.02" cy="231.93" r="0.97" fill="#060a34"/><circle cx="327.76" cy="228.15" r="1.21" fill="#060a34"/><circle cx="383.94" cy="140.72" r="1.17" fill="#0a0e3c"/><circle cx="316.92" cy="199.94" r="0.67" fill="#0a1050"/><circle cx="296.48" cy="168.25" r="1.25" fill="#080e44"/><circle cx="377.6" cy="155.54" r="1.11" fill="#0a0e3c"/><circle cx="373.27" cy="149.64" r="0.91" fill="#060a34"/><circle cx="322.01" cy="147.77" r="1.15" fill="#0a1050"/><circle cx="364.95" cy="241.48" r="1.22" fill="#060a34"/><circle cx="362.42" cy="186.68" r="0.64" fill="#0a0e3c"/><circle cx="326.07" cy="241.48" r="0.73" fill="#0a1050"/></g>
<g filter="url(#bl)"><ellipse cx="323.65" cy="192.95" rx="1.79" ry="1.36" fill="#0d1c9c" transform="rotate(118 323.65 192.95)"/><ellipse cx="346.81" cy="240.93" rx="2.19" ry="1.98" fill="#0d1c9c" transform="rotate(77 346.81 240.93)"/><ellipse cx="383.08" cy="238.39" rx="2.03" ry="1.9" fill="#1226c0" transform="rotate(157 383.08 238.39)"/><ellipse cx="386.6" cy="167.24" rx="1.75" ry="1.17" fill="#1226c0" transform="rotate(155 386.6 167.24)"/><ellipse cx="319.51" cy="188.74" rx="2.03" ry="1.4" fill="#0d1c9c" transform="rotate(72 319.51 188.74)"/><ellipse cx="322.59" cy="181.9" rx="1.62" ry="1.61" fill="#1226c0" transform="rotate(159 322.59 181.9)"/><ellipse cx="369.18" cy="236.88" rx="2.13" ry="1.51" fill="#1832dc" transform="rotate(148 369.18 236.88)"/><ellipse cx="358.83" cy="225.6" rx="2.06" ry="1.54" fill="#1832dc" transform="rotate(135 358.83 225.6)"/><ellipse cx="304.45" cy="173.88" rx="2.07" ry="1.88" fill="#0d1c9c" transform="rotate(77 304.45 173.88)"/><ellipse cx="404.55" cy="150.41" rx="2.04" ry="1.37" fill="#09127a" transform="rotate(115 404.55 150.41)"/><ellipse cx="340.06" cy="141.49" rx="1.53" ry="1.13" fill="#1226c0" transform="rotate(164 340.06 141.49)"/><ellipse cx="303.36" cy="234.3" rx="2.14" ry="1.65" fill="#09127a" transform="rotate(89 303.36 234.3)"/><ellipse cx="403.54" cy="206.59" rx="1.39" ry="1.32" fill="#0d1c9c" transform="rotate(99 403.54 206.59)"/><ellipse cx="308.07" cy="167.19" rx="1.41" ry="1.02" fill="#0d1c9c" transform="rotate(0 308.07 167.19)"/><ellipse cx="319.52" cy="209.12" rx="1.59" ry="1.16" fill="#1226c0" transform="rotate(168 319.52 209.12)"/><ellipse cx="369.4" cy="183.15" rx="1.83" ry="1.8" fill="#0d1c9c" transform="rotate(88 369.4 183.15)"/><ellipse cx="351.96" cy="146.55" rx="2.35" ry="1.96" fill="#09127a" transform="rotate(73 351.96 146.55)"/><ellipse cx="353.84" cy="240.39" rx="2.01" ry="1.38" fill="#0d1c9c" transform="rotate(147 353.84 240.39)"/><ellipse cx="377.69" cy="144.77" rx="1.81" ry="1.28" fill="#1226c0" transform="rotate(30 377.69 144.77)"/><ellipse cx="351.13" cy="214.12" rx="1.98" ry="1.37" fill="#09127a" transform="rotate(98 351.13 214.12)"/><ellipse cx="322.36" cy="234.23" rx="1.51" ry="1.3" fill="#0d1c9c" transform="rotate(140 322.36 234.23)"/><ellipse cx="344.96" cy="212.76" rx="1.97" ry="1.95" fill="#1226c0" transform="rotate(71 344.96 212.76)"/><ellipse cx="338.66" cy="245.45" rx="1.95" ry="1.44" fill="#1226c0" transform="rotate(12 338.66 245.45)"/><ellipse cx="380.69" cy="198.23" rx="1.94" ry="1.3" fill="#1832dc" transform="rotate(126 380.69 198.23)"/><ellipse cx="309.87" cy="183.41" rx="2.19" ry="1.57" fill="#09127a" transform="rotate(107 309.87 183.41)"/><ellipse cx="297.06" cy="200.66" rx="1.37" ry="1.18" fill="#1226c0" transform="rotate(87 297.06 200.66)"/><ellipse cx="391.68" cy="154.21" rx="2.08" ry="1.58" fill="#0d1c9c" transform="rotate(74 391.68 154.21)"/><ellipse cx="350.43" cy="188.04" rx="1.88" ry="1.76" fill="#09127a" transform="rotate(47 350.43 188.04)"/><ellipse cx="338.75" cy="213.57" rx="1.68" ry="1.36" fill="#1226c0" transform="rotate(122 338.75 213.57)"/><ellipse cx="397.77" cy="213" rx="2.16" ry="2.05" fill="#0d1c9c" transform="rotate(0 397.77 213)"/><ellipse cx="330.51" cy="217.51" rx="2.12" ry="1.68" fill="#1226c0" transform="rotate(165 330.51 217.51)"/><ellipse cx="366.89" cy="219.3" rx="1.77" ry="1.32" fill="#1226c0" transform="rotate(156 366.89 219.3)"/><ellipse cx="388.38" cy="159.2" rx="2.13" ry="1.4" fill="#1832dc" transform="rotate(45 388.38 159.2)"/><ellipse cx="362.76" cy="179.11" rx="1.48" ry="1.45" fill="#1226c0" transform="rotate(38 362.76 179.11)"/><ellipse cx="367.83" cy="243.45" rx="1.4" ry="1.36" fill="#1832dc" transform="rotate(63 367.83 243.45)"/><ellipse cx="364.27" cy="135.3" rx="1.67" ry="1.26" fill="#09127a" transform="rotate(121 364.27 135.3)"/><ellipse cx="391.84" cy="206.81" rx="2.33" ry="1.92" fill="#1226c0" transform="rotate(46 391.84 206.81)"/><ellipse cx="361.12" cy="235.4" rx="1.91" ry="1.62" fill="#1226c0" transform="rotate(47 361.12 235.4)"/><ellipse cx="384.33" cy="219.9" rx="1.87" ry="1.5" fill="#0d1c9c" transform="rotate(99 384.33 219.9)"/><ellipse cx="315.95" cy="217.36" rx="1.73" ry="1.44" fill="#0d1c9c" transform="rotate(178 315.95 217.36)"/><ellipse cx="358.87" cy="155.45" rx="1.42" ry="1.26" fill="#0d1c9c" transform="rotate(137 358.87 155.45)"/><ellipse cx="383.07" cy="149.44" rx="1.39" ry="1.31" fill="#0d1c9c" transform="rotate(81 383.07 149.44)"/><ellipse cx="345.65" cy="156.96" rx="1.59" ry="1.05" fill="#1832dc" transform="rotate(146 345.65 156.96)"/><ellipse cx="294.14" cy="188.37" rx="1.85" ry="1.77" fill="#0d1c9c" transform="rotate(113 294.14 188.37)"/><ellipse cx="386.73" cy="207.74" rx="1.52" ry="1.43" fill="#1226c0" transform="rotate(1 386.73 207.74)"/><ellipse cx="377.57" cy="188.32" rx="1.59" ry="1.57" fill="#09127a" transform="rotate(146 377.57 188.32)"/><ellipse cx="368.7" cy="171.51" rx="2.02" ry="1.49" fill="#1226c0" transform="rotate(71 368.7 171.51)"/><ellipse cx="296.86" cy="142.94" rx="2.03" ry="1.59" fill="#1226c0" transform="rotate(48 296.86 142.94)"/><ellipse cx="377.49" cy="153.45" rx="1.6" ry="1.04" fill="#09127a" transform="rotate(155 377.49 153.45)"/><ellipse cx="377.08" cy="221.85" rx="1.32" ry="1.12" fill="#09127a" transform="rotate(141 377.08 221.85)"/><ellipse cx="381.2" cy="230.77" rx="2.13" ry="1.82" fill="#1226c0" transform="rotate(159 381.2 230.77)"/><ellipse cx="308.77" cy="152.21" rx="1.32" ry="0.92" fill="#09127a" transform="rotate(74 308.77 152.21)"/><ellipse cx="336.16" cy="186.04" rx="1.64" ry="1.62" fill="#09127a" transform="rotate(177 336.16 186.04)"/><ellipse cx="326.52" cy="135.16" rx="2.04" ry="1.38" fill="#0d1c9c" transform="rotate(74 326.52 135.16)"/><ellipse cx="334.48" cy="194.26" rx="1.8" ry="1.68" fill="#09127a" transform="rotate(95 334.48 194.26)"/><ellipse cx="365.85" cy="188.18" rx="1.74" ry="1.69" fill="#1226c0" transform="rotate(146 365.85 188.18)"/><ellipse cx="302.32" cy="226.33" rx="1.77" ry="1.46" fill="#09127a" transform="rotate(160 302.32 226.33)"/><ellipse cx="327.56" cy="206.39" rx="1.6" ry="1.59" fill="#1226c0" transform="rotate(155 327.56 206.39)"/><ellipse cx="337.42" cy="228.16" rx="1.71" ry="1.29" fill="#09127a" transform="rotate(45 337.42 228.16)"/><ellipse cx="304.12" cy="204.93" rx="1.54" ry="1.03" fill="#1832dc" transform="rotate(114 304.12 204.93)"/><ellipse cx="388.25" cy="223.36" rx="1.4" ry="1.08" fill="#09127a" transform="rotate(174 388.25 223.36)"/><ellipse cx="363.6" cy="168.5" rx="2.19" ry="2.14" fill="#09127a" transform="rotate(35 363.6 168.5)"/><ellipse cx="319.56" cy="165.08" rx="1.38" ry="1.06" fill="#0d1c9c" transform="rotate(95 319.56 165.08)"/><ellipse cx="400.11" cy="146.54" rx="2.13" ry="1.61" fill="#1832dc" transform="rotate(41 400.11 146.54)"/><ellipse cx="384.67" cy="176.47" rx="1.83" ry="1.69" fill="#0d1c9c" transform="rotate(113 384.67 176.47)"/><ellipse cx="334.27" cy="169.66" rx="1.67" ry="1.1" fill="#1832dc" transform="rotate(82 334.27 169.66)"/><ellipse cx="302.39" cy="185.23" rx="1.76" ry="1.69" fill="#0d1c9c" transform="rotate(32 302.39 185.23)"/><ellipse cx="396.11" cy="183.5" rx="1.96" ry="1.36" fill="#0d1c9c" transform="rotate(51 396.11 183.5)"/><ellipse cx="330.01" cy="145.15" rx="1.6" ry="1.43" fill="#1226c0" transform="rotate(122 330.01 145.15)"/><ellipse cx="320.2" cy="155.23" rx="1.34" ry="1.19" fill="#1226c0" transform="rotate(125 320.2 155.23)"/><ellipse cx="333.33" cy="223.05" rx="1.88" ry="1.6" fill="#1832dc" transform="rotate(173 333.33 223.05)"/><ellipse cx="319.68" cy="224.56" rx="1.78" ry="1.57" fill="#0d1c9c" transform="rotate(144 319.68 224.56)"/><ellipse cx="391.32" cy="237.7" rx="2.15" ry="1.58" fill="#0d1c9c" transform="rotate(108 391.32 237.7)"/><ellipse cx="397.65" cy="218.4" rx="1.93" ry="1.75" fill="#09127a" transform="rotate(96 397.65 218.4)"/><ellipse cx="402.48" cy="166.66" rx="2.3" ry="1.66" fill="#0d1c9c" transform="rotate(157 402.48 166.66)"/><ellipse cx="362.9" cy="209.11" rx="1.31" ry="1.04" fill="#0d1c9c" transform="rotate(61 362.9 209.11)"/><ellipse cx="334.59" cy="178.26" rx="1.96" ry="1.5" fill="#1226c0" transform="rotate(155 334.59 178.26)"/><ellipse cx="313.2" cy="241.26" rx="1.94" ry="1.66" fill="#1226c0" transform="rotate(123 313.2 241.26)"/><ellipse cx="296.91" cy="173.29" rx="1.81" ry="1.68" fill="#1226c0" transform="rotate(3 296.91 173.29)"/><ellipse cx="333.67" cy="236.78" rx="1.48" ry="1.2" fill="#09127a" transform="rotate(120 333.67 236.78)"/><ellipse cx="391.83" cy="219.29" rx="1.68" ry="1.25" fill="#09127a" transform="rotate(9 391.83 219.29)"/><ellipse cx="342.24" cy="194.78" rx="1.41" ry="1.1" fill="#1226c0" transform="rotate(36 342.24 194.78)"/><ellipse cx="364.6" cy="150.86" rx="1.76" ry="1.54" fill="#1226c0" transform="rotate(146 364.6 150.86)"/><ellipse cx="328.91" cy="237.73" rx="1.54" ry="1.2" fill="#09127a" transform="rotate(100 328.91 237.73)"/><ellipse cx="304.35" cy="149.93" rx="2.1" ry="1.63" fill="#09127a" transform="rotate(124 304.35 149.93)"/><ellipse cx="340.46" cy="162.02" rx="1.61" ry="1.33" fill="#09127a" transform="rotate(135 340.46 162.02)"/><ellipse cx="331.84" cy="161.61" rx="1.9" ry="1.6" fill="#1226c0" transform="rotate(4 331.84 161.61)"/><ellipse cx="320.45" cy="202.39" rx="1.66" ry="1.22" fill="#09127a" transform="rotate(149 320.45 202.39)"/><ellipse cx="309.79" cy="229.29" rx="1.75" ry="1.33" fill="#0d1c9c" transform="rotate(24 309.79 229.29)"/><ellipse cx="341.51" cy="221.23" rx="1.3" ry="1.3" fill="#0d1c9c" transform="rotate(113 341.51 221.23)"/><ellipse cx="308.54" cy="192.57" rx="2.36" ry="1.62" fill="#0d1c9c" transform="rotate(173 308.54 192.57)"/><ellipse cx="386.78" cy="200.92" rx="1.46" ry="1.26" fill="#0d1c9c" transform="rotate(122 386.78 200.92)"/><ellipse cx="359.07" cy="194.32" rx="1.34" ry="1.05" fill="#0d1c9c" transform="rotate(88 359.07 194.32)"/><ellipse cx="403.13" cy="244.76" rx="2.14" ry="1.74" fill="#1226c0" transform="rotate(15 403.13 244.76)"/><ellipse cx="387.13" cy="184.91" rx="2.07" ry="2.05" fill="#1226c0" transform="rotate(119 387.13 184.91)"/><ellipse cx="327.74" cy="223.37" rx="2.11" ry="1.83" fill="#0d1c9c" transform="rotate(150 327.74 223.37)"/><ellipse cx="332.72" cy="153.39" rx="1.96" ry="1.76" fill="#0d1c9c" transform="rotate(135 332.72 153.39)"/><ellipse cx="310.1" cy="209.01" rx="1.8" ry="1.64" fill="#1226c0" transform="rotate(75 310.1 209.01)"/><ellipse cx="304" cy="242.81" rx="2.31" ry="2.23" fill="#0d1c9c" transform="rotate(26 304 242.81)"/><ellipse cx="393.56" cy="161.05" rx="1.53" ry="1.22" fill="#09127a" transform="rotate(8 393.56 161.05)"/><ellipse cx="347.24" cy="196.58" rx="1.74" ry="1.36" fill="#1226c0" transform="rotate(30 347.24 196.58)"/><ellipse cx="300.49" cy="156.36" rx="2.15" ry="1.51" fill="#09127a" transform="rotate(74 300.49 156.36)"/><ellipse cx="395.76" cy="226.07" rx="2.15" ry="1.48" fill="#0d1c9c" transform="rotate(25 395.76 226.07)"/><ellipse cx="317.31" cy="139.95" rx="1.53" ry="1.02" fill="#1226c0" transform="rotate(20 317.31 139.95)"/><ellipse cx="317.69" cy="176.46" rx="1.56" ry="1.43" fill="#09127a" transform="rotate(131 317.69 176.46)"/><ellipse cx="362.92" cy="230.16" rx="1.89" ry="1.7" fill="#0d1c9c" transform="rotate(7 362.92 230.16)"/><ellipse cx="350.09" cy="236.7" rx="1.57" ry="1.15" fill="#0d1c9c" transform="rotate(177 350.09 236.7)"/><ellipse cx="311.89" cy="145.81" rx="2.06" ry="1.63" fill="#0d1c9c" transform="rotate(96 311.89 145.81)"/><ellipse cx="341.28" cy="178.59" rx="2.07" ry="1.94" fill="#0d1c9c" transform="rotate(5 341.28 178.59)"/><ellipse cx="382.35" cy="224.89" rx="1.56" ry="1.34" fill="#0d1c9c" transform="rotate(86 382.35 224.89)"/><ellipse cx="356.23" cy="186.95" rx="2.13" ry="1.85" fill="#09127a" transform="rotate(68 356.23 186.95)"/><ellipse cx="403.34" cy="159.66" rx="1.82" ry="1.79" fill="#09127a" transform="rotate(143 403.34 159.66)"/><ellipse cx="371.84" cy="212.29" rx="2.01" ry="1.64" fill="#0d1c9c" transform="rotate(27 371.84 212.29)"/><ellipse cx="315.37" cy="198.94" rx="2.16" ry="1.75" fill="#0d1c9c" transform="rotate(78 315.37 198.94)"/><ellipse cx="365.41" cy="204.05" rx="1.64" ry="1.6" fill="#1226c0" transform="rotate(53 365.41 204.05)"/><ellipse cx="346.54" cy="139.35" rx="2.22" ry="1.46" fill="#0d1c9c" transform="rotate(11 346.54 139.35)"/><ellipse cx="326.19" cy="157.39" rx="2.19" ry="1.46" fill="#0d1c9c" transform="rotate(21 326.19 157.39)"/><ellipse cx="385.28" cy="212.5" rx="2.16" ry="1.67" fill="#09127a" transform="rotate(165 385.28 212.5)"/><ellipse cx="356.95" cy="180.22" rx="1.99" ry="1.39" fill="#0d1c9c" transform="rotate(117 356.95 180.22)"/><ellipse cx="344.34" cy="207.84" rx="1.59" ry="1.35" fill="#09127a" transform="rotate(11 344.34 207.84)"/><ellipse cx="317.6" cy="171.32" rx="2.39" ry="1.79" fill="#09127a" transform="rotate(158 317.6 171.32)"/><ellipse cx="343.49" cy="184.91" rx="1.48" ry="1" fill="#09127a" transform="rotate(62 343.49 184.91)"/><ellipse cx="328.55" cy="169.72" rx="1.84" ry="1.77" fill="#0d1c9c" transform="rotate(30 328.55 169.72)"/><ellipse cx="322.21" cy="215.1" rx="1.94" ry="1.75" fill="#1226c0" transform="rotate(43 322.21 215.1)"/><ellipse cx="331.86" cy="183.34" rx="2.06" ry="2.03" fill="#1226c0" transform="rotate(33 331.86 183.34)"/><ellipse cx="348.8" cy="223.69" rx="1.8" ry="1.36" fill="#09127a" transform="rotate(165 348.8 223.69)"/><ellipse cx="395.46" cy="150.94" rx="2.29" ry="1.9" fill="#09127a" transform="rotate(13 395.46 150.94)"/><ellipse cx="396.58" cy="156.73" rx="1.9" ry="1.48" fill="#1226c0" transform="rotate(115 396.58 156.73)"/><ellipse cx="371.9" cy="231.92" rx="2.14" ry="1.82" fill="#0d1c9c" transform="rotate(26 371.9 231.92)"/><ellipse cx="359.44" cy="212.65" rx="1.69" ry="1.25" fill="#0d1c9c" transform="rotate(28 359.44 212.65)"/><ellipse cx="351.96" cy="160.28" rx="1.59" ry="1.27" fill="#1226c0" transform="rotate(4 351.96 160.28)"/><ellipse cx="335.97" cy="158.09" rx="1.74" ry="1.45" fill="#1832dc" transform="rotate(22 335.97 158.09)"/><ellipse cx="318.67" cy="193.65" rx="2.19" ry="1.62" fill="#0d1c9c" transform="rotate(172 318.67 193.65)"/><ellipse cx="299.77" cy="213.19" rx="1.84" ry="1.24" fill="#0d1c9c" transform="rotate(50 299.77 213.19)"/><ellipse cx="375.33" cy="158.77" rx="2.15" ry="1.76" fill="#1226c0" transform="rotate(150 375.33 158.77)"/><ellipse cx="329.51" cy="194.22" rx="1.5" ry="1.27" fill="#1226c0" transform="rotate(168 329.51 194.22)"/><ellipse cx="398.63" cy="173.78" rx="1.59" ry="1.49" fill="#0d1c9c" transform="rotate(153 398.63 173.78)"/><ellipse cx="361.06" cy="145.99" rx="1.99" ry="1.39" fill="#1226c0" transform="rotate(5 361.06 145.99)"/><ellipse cx="302.32" cy="194.52" rx="1.31" ry="0.86" fill="#0d1c9c" transform="rotate(88 302.32 194.52)"/><ellipse cx="311.85" cy="139.04" rx="2.2" ry="2.18" fill="#0d1c9c" transform="rotate(131 311.85 139.04)"/><ellipse cx="359.63" cy="242.24" rx="2.14" ry="1.78" fill="#1226c0" transform="rotate(114 359.63 242.24)"/><ellipse cx="298.26" cy="161.62" rx="2.14" ry="2" fill="#1226c0" transform="rotate(53 298.26 161.62)"/><ellipse cx="338.52" cy="235.83" rx="1.46" ry="1.06" fill="#0d1c9c" transform="rotate(165 338.52 235.83)"/><ellipse cx="314.88" cy="134.7" rx="2.28" ry="1.6" fill="#0d1c9c" transform="rotate(131 314.88 134.7)"/><ellipse cx="332.76" cy="136.58" rx="1.36" ry="1.31" fill="#09127a" transform="rotate(107 332.76 136.58)"/><ellipse cx="364.6" cy="197.81" rx="1.92" ry="1.59" fill="#0d1c9c" transform="rotate(68 364.6 197.81)"/><ellipse cx="377.12" cy="240.68" rx="2.09" ry="1.85" fill="#1832dc" transform="rotate(62 377.12 240.68)"/><ellipse cx="296.9" cy="167.85" rx="1.68" ry="1.33" fill="#09127a" transform="rotate(9 296.9 167.85)"/><ellipse cx="387.04" cy="242.94" rx="1.97" ry="1.81" fill="#0d1c9c" transform="rotate(80 387.04 242.94)"/><ellipse cx="354.61" cy="197.72" rx="1.8" ry="1.77" fill="#1226c0" transform="rotate(100 354.61 197.72)"/><ellipse cx="369.99" cy="161.68" rx="1.67" ry="1.26" fill="#0d1c9c" transform="rotate(138 369.99 161.68)"/><ellipse cx="372.85" cy="174.88" rx="2.17" ry="1.83" fill="#0d1c9c" transform="rotate(27 372.85 174.88)"/><ellipse cx="337.15" cy="203.02" rx="1.92" ry="1.92" fill="#0d1c9c" transform="rotate(49 337.15 203.02)"/><ellipse cx="378.8" cy="211.96" rx="1.85" ry="1.56" fill="#1226c0" transform="rotate(75 378.8 211.96)"/><ellipse cx="339.14" cy="189.87" rx="1.61" ry="1.43" fill="#09127a" transform="rotate(149 339.14 189.87)"/><ellipse cx="403.46" cy="224.5" rx="1.63" ry="1.1" fill="#0d1c9c" transform="rotate(100 403.46 224.5)"/><ellipse cx="295.85" cy="137.4" rx="1.98" ry="1.61" fill="#2848f4" transform="rotate(123 295.85 137.4)"/><ellipse cx="401.54" cy="232.01" rx="1.43" ry="1.28" fill="#0d1c9c" transform="rotate(104 401.54 232.01)"/><ellipse cx="357.42" cy="161.08" rx="2.27" ry="2.25" fill="#09127a" transform="rotate(18 357.42 161.08)"/><ellipse cx="313.91" cy="161.12" rx="1.89" ry="1.82" fill="#1832dc" transform="rotate(108 313.91 161.12)"/><ellipse cx="346.3" cy="174.52" rx="1.96" ry="1.93" fill="#1226c0" transform="rotate(114 346.3 174.52)"/><ellipse cx="313.77" cy="156.19" rx="2.13" ry="1.54" fill="#2848f4" transform="rotate(74 313.77 156.19)"/><ellipse cx="313.32" cy="224.15" rx="1.52" ry="1.36" fill="#0d1c9c" transform="rotate(100 313.32 224.15)"/><ellipse cx="340.09" cy="148.07" rx="1.81" ry="1.18" fill="#2848f4" transform="rotate(72 340.09 148.07)"/><ellipse cx="307.01" cy="145.61" rx="1.88" ry="1.71" fill="#1226c0" transform="rotate(43 307.01 145.61)"/><ellipse cx="396.08" cy="243.18" rx="1.52" ry="1.49" fill="#1832dc" transform="rotate(80 396.08 243.18)"/><ellipse cx="399.5" cy="202.78" rx="1.97" ry="1.89" fill="#1226c0" transform="rotate(37 399.5 202.78)"/><ellipse cx="355.2" cy="136.28" rx="2.39" ry="1.69" fill="#09127a" transform="rotate(104 355.2 136.28)"/><ellipse cx="295.74" cy="205.55" rx="2.27" ry="2.08" fill="#1832dc" transform="rotate(164 295.74 205.55)"/><ellipse cx="326.54" cy="141.13" rx="1.73" ry="1.19" fill="#1226c0" transform="rotate(10 326.54 141.13)"/><ellipse cx="393.45" cy="173.45" rx="1.91" ry="1.25" fill="#1226c0" transform="rotate(52 393.45 173.45)"/><ellipse cx="387.69" cy="151.45" rx="1.35" ry="1.31" fill="#0d1c9c" transform="rotate(66 387.69 151.45)"/><ellipse cx="391.42" cy="194" rx="2.06" ry="1.84" fill="#1832dc" transform="rotate(135 391.42 194)"/><ellipse cx="372.57" cy="194.16" rx="2.14" ry="1.83" fill="#09127a" transform="rotate(136 372.57 194.16)"/><ellipse cx="355.37" cy="171.83" rx="2.01" ry="1.9" fill="#0d1c9c" transform="rotate(80 355.37 171.83)"/><ellipse cx="318.96" cy="149.66" rx="2.18" ry="1.83" fill="#09127a" transform="rotate(154 318.96 149.66)"/><ellipse cx="400.34" cy="238.42" rx="1.37" ry="1.1" fill="#1226c0" transform="rotate(158 400.34 238.42)"/><ellipse cx="294.62" cy="181.28" rx="1.77" ry="1.48" fill="#09127a" transform="rotate(34 294.62 181.28)"/><ellipse cx="347.48" cy="228.34" rx="1.78" ry="1.28" fill="#1226c0" transform="rotate(118 347.48 228.34)"/><ellipse cx="326.5" cy="198.57" rx="2.15" ry="1.53" fill="#0d1c9c" transform="rotate(73 326.5 198.57)"/><ellipse cx="294.67" cy="237.88" rx="1.97" ry="1.85" fill="#1226c0" transform="rotate(140 294.67 237.88)"/><ellipse cx="327.38" cy="245.69" rx="1.68" ry="1.32" fill="#0d1c9c" transform="rotate(110 327.38 245.69)"/><ellipse cx="324.68" cy="163.32" rx="1.31" ry="1.07" fill="#1226c0" transform="rotate(161 324.68 163.32)"/><ellipse cx="299.47" cy="221.7" rx="2.31" ry="1.83" fill="#09127a" transform="rotate(105 299.47 221.7)"/><ellipse cx="369.45" cy="149.08" rx="2" ry="1.44" fill="#0d1c9c" transform="rotate(129 369.45 149.08)"/><ellipse cx="370.87" cy="167.22" rx="1.62" ry="1.29" fill="#0d1c9c" transform="rotate(75 370.87 167.22)"/><ellipse cx="381.42" cy="180.95" rx="2.34" ry="1.62" fill="#0d1c9c" transform="rotate(101 381.42 180.95)"/><ellipse cx="394.47" cy="202.62" rx="1.88" ry="1.86" fill="#1226c0" transform="rotate(126 394.47 202.62)"/><ellipse cx="294.61" cy="157.01" rx="1.96" ry="1.94" fill="#0d1c9c" transform="rotate(156 294.61 157.01)"/><ellipse cx="313.33" cy="235" rx="2.37" ry="1.67" fill="#09127a" transform="rotate(121 313.33 235)"/><ellipse cx="358.51" cy="206.27" rx="1.59" ry="1.37" fill="#1226c0" transform="rotate(157 358.51 206.27)"/><ellipse cx="308.43" cy="222.24" rx="1.65" ry="1.23" fill="#0d1c9c" transform="rotate(55 308.43 222.24)"/><ellipse cx="333.15" cy="241.92" rx="1.53" ry="1.09" fill="#1832dc" transform="rotate(167 333.15 241.92)"/><ellipse cx="345.02" cy="201.99" rx="2.23" ry="1.65" fill="#1226c0" transform="rotate(130 345.02 201.99)"/><ellipse cx="347.06" cy="150.96" rx="1.88" ry="1.84" fill="#1226c0" transform="rotate(126 347.06 150.96)"/><ellipse cx="323.53" cy="220.57" rx="1.36" ry="1.08" fill="#0d1c9c" transform="rotate(66 323.53 220.57)"/><ellipse cx="403" cy="186.37" rx="2.38" ry="2.1" fill="#2848f4" transform="rotate(149 403 186.37)"/><ellipse cx="315.33" cy="181.33" rx="2.15" ry="1.87" fill="#1832dc" transform="rotate(38 315.33 181.33)"/><ellipse cx="387.5" cy="229.42" rx="2.38" ry="1.86" fill="#09127a" transform="rotate(80 387.5 229.42)"/><ellipse cx="318.73" cy="229.95" rx="2.24" ry="1.75" fill="#0d1c9c" transform="rotate(24 318.73 229.95)"/></g>
<g filter="url(#bl2)"><ellipse cx="365.55" cy="195.04" rx="1.72" ry="1.14" fill="#c03050" opacity="0.67" transform="rotate(4 365.55 195.04)"/><ellipse cx="293.9" cy="141.68" rx="0.9" ry="1.23" fill="#d06040" opacity="0.55" transform="rotate(23 293.9 141.68)"/><ellipse cx="295.02" cy="196.72" rx="1.37" ry="1.2" fill="#b04070" opacity="0.65" transform="rotate(15 295.02 196.72)"/><ellipse cx="396.63" cy="238.26" rx="1.31" ry="1.22" fill="#d06040" opacity="0.47" transform="rotate(42 396.63 238.26)"/><ellipse cx="341.8" cy="245.34" rx="1.08" ry="1.25" fill="#d87840" opacity="0.69" transform="rotate(140 341.8 245.34)"/><ellipse cx="382.48" cy="178.42" rx="1.12" ry="1.12" fill="#c84038" opacity="0.55" transform="rotate(131 382.48 178.42)"/><ellipse cx="396.33" cy="164.6" rx="1.08" ry="0.89" fill="#d06040" opacity="0.51" transform="rotate(44 396.33 164.6)"/><ellipse cx="300.39" cy="228.39" rx="1.84" ry="0.92" fill="#d06040" opacity="0.49" transform="rotate(1 300.39 228.39)"/><ellipse cx="313.59" cy="136.84" rx="1.43" ry="1.09" fill="#e05048" opacity="0.45" transform="rotate(85 313.59 136.84)"/><ellipse cx="341.42" cy="151.89" rx="1.29" ry="1" fill="#c84038" opacity="0.44" transform="rotate(6 341.42 151.89)"/><ellipse cx="383.71" cy="161.47" rx="1.3" ry="0.89" fill="#c03050" opacity="0.56" transform="rotate(113 383.71 161.47)"/><ellipse cx="386.17" cy="194.11" rx="1.08" ry="0.89" fill="#c03050" opacity="0.5" transform="rotate(137 386.17 194.11)"/><ellipse cx="359.62" cy="236.76" rx="1.18" ry="0.95" fill="#e05048" opacity="0.52" transform="rotate(21 359.62 236.76)"/><ellipse cx="313.83" cy="244.94" rx="1.28" ry="1.33" fill="#e05048" opacity="0.5" transform="rotate(141 313.83 244.94)"/><ellipse cx="302.14" cy="214.27" rx="1.16" ry="1.06" fill="#c84038" opacity="0.48" transform="rotate(114 302.14 214.27)"/><ellipse cx="324.08" cy="137.21" rx="1.16" ry="1.08" fill="#e05048" opacity="0.68" transform="rotate(161 324.08 137.21)"/><ellipse cx="361.62" cy="210.29" rx="1.88" ry="0.85" fill="#b04070" opacity="0.58" transform="rotate(156 361.62 210.29)"/><ellipse cx="383.48" cy="168" rx="1.42" ry="1" fill="#c84038" opacity="0.47" transform="rotate(93 383.48 168)"/><ellipse cx="303.94" cy="214.62" rx="1.32" ry="0.89" fill="#d06040" opacity="0.68" transform="rotate(167 303.94 214.62)"/><ellipse cx="310.69" cy="235.62" rx="1.79" ry="1.2" fill="#c84038" opacity="0.68" transform="rotate(103 310.69 235.62)"/><ellipse cx="330.84" cy="241.85" rx="1.36" ry="0.94" fill="#d87840" opacity="0.56" transform="rotate(110 330.84 241.85)"/><ellipse cx="394.96" cy="227.44" rx="1.43" ry="1.28" fill="#b04070" opacity="0.59" transform="rotate(154 394.96 227.44)"/><ellipse cx="395.01" cy="172.74" rx="1.65" ry="1.3" fill="#c84038" opacity="0.56" transform="rotate(119 395.01 172.74)"/><ellipse cx="317.03" cy="169.78" rx="1.43" ry="0.83" fill="#c03050" opacity="0.49" transform="rotate(104 317.03 169.78)"/><ellipse cx="385.8" cy="163.5" rx="3" ry="2.25" fill="#e87060" opacity="0.85" transform="rotate(30 385.8 163.5)"/><ellipse cx="341.9" cy="185.4" rx="2.5" ry="1.7" fill="#d85a40" opacity="0.81" transform="rotate(60 341.9 185.4)"/><ellipse cx="351.2" cy="198" rx="2.5" ry="1.5" fill="#d86a3a" opacity="0.77" transform="rotate(0 351.2 198)"/><ellipse cx="343" cy="210.8" rx="2.5" ry="1.7" fill="#e06050" opacity="0.81" transform="rotate(20 343 210.8)"/><ellipse cx="395" cy="220" rx="2.5" ry="1.5" fill="#d86040" opacity="0.77" transform="rotate(70 395 220)"/><ellipse cx="328" cy="186.5" rx="2" ry="1.3" fill="#c85040" opacity="0.68" transform="rotate(20 328 186.5)"/><ellipse cx="315.4" cy="167" rx="2" ry="1.2" fill="#c86a3a" opacity="0.68" transform="rotate(40 315.4 167)"/><ellipse cx="363.8" cy="156.5" rx="2" ry="1.3" fill="#d07a40" opacity="0.72" transform="rotate(10 363.8 156.5)"/><ellipse cx="331.5" cy="229.2" rx="2.5" ry="1.3" fill="#c85040" opacity="0.68" transform="rotate(50 331.5 229.2)"/><ellipse cx="303.8" cy="240.8" rx="2.5" ry="1.3" fill="#c86a3a" opacity="0.68" transform="rotate(0 303.8 240.8)"/><ellipse cx="312" cy="199.2" rx="2" ry="1.2" fill="#b84a48" opacity="0.64" transform="rotate(80 312 199.2)"/><ellipse cx="332.7" cy="158.8" rx="2" ry="1.2" fill="#c84a40" opacity="0.68" transform="rotate(20 332.7 158.8)"/><ellipse cx="372" cy="232" rx="2" ry="1.1" fill="#c06040" opacity="0.59" transform="rotate(30 372 232)"/><ellipse cx="356" cy="172" rx="1.5" ry="1.1" fill="#c85a40" opacity="0.59" transform="rotate(0 356 172)"/></g>
</g>
<line x1="378.4" y1="238.7" x2="400.1" y2="238.7" stroke="#e8e8e8" stroke-width="1.3" stroke-linecap="butt"/>
<text x="401.4" y="143" font-size="7.8" text-anchor="end" font-weight="normal" fill="#b8202e" stroke="#b8202e" stroke-width="0.1">CD68</text>
<text x="286.6" y="76.7" font-size="10.45" text-anchor="middle" font-weight="normal" fill="#231f20" stroke="#231f20" stroke-width="0.34" transform="rotate(-90 286.6 76.7)">scramble shRNA</text>
<text x="286.6" y="188.2" font-size="10.6" text-anchor="middle" font-weight="normal" fill="#231f20" stroke="#231f20" stroke-width="0.34" transform="rotate(-90 286.6 188.2)">mPTX2 shRNA</text>
<line x1="207.9" y1="274.7" x2="207.9" y2="416.6" stroke="#0a0a0a" stroke-width="1.45" stroke-linecap="butt"/>
<line x1="204.6" y1="416" x2="207.9" y2="416" stroke="#0a0a0a" stroke-width="1.45" stroke-linecap="butt"/>
<text x="201.4" y="419" font-size="8.5" text-anchor="end" font-weight="normal" fill="#231f20" stroke="#231f20" stroke-width="0.34">0</text>
<line x1="204.6" y1="369.9" x2="207.9" y2="369.9" stroke="#0a0a0a" stroke-width="1.45" stroke-linecap="butt"/>
<text x="201.4" y="372.9" font-size="8.5" text-anchor="end" font-weight="normal" fill="#231f20" stroke="#231f20" stroke-width="0.34">50</text>
<line x1="204.6" y1="323.8" x2="207.9" y2="323.8" stroke="#0a0a0a" stroke-width="1.45" stroke-linecap="butt"/>
<text x="201.4" y="326.8" font-size="8.5" text-anchor="end" font-weight="normal" fill="#231f20" stroke="#231f20" stroke-width="0.34">100</text>
<line x1="204.6" y1="277.7" x2="207.9" y2="277.7" stroke="#0a0a0a" stroke-width="1.45" stroke-linecap="butt"/>
<text x="201.4" y="280.7" font-size="8.5" text-anchor="end" font-weight="normal" fill="#231f20" stroke="#231f20" stroke-width="0.34">150</text>
<line x1="217.4" y1="428.6" x2="461.6" y2="428.6" stroke="#0a0a0a" stroke-width="1.45" stroke-linecap="butt"/>
<line x1="219.5" y1="428.6" x2="219.5" y2="431.8" stroke="#0a0a0a" stroke-width="1.45" stroke-linecap="butt"/>
<text x="219.5" y="441.5" font-size="8.4" text-anchor="middle" font-weight="normal" fill="#231f20" stroke="#231f20" stroke-width="0.34">0</text>
<line x1="299.5" y1="428.6" x2="299.5" y2="431.8" stroke="#0a0a0a" stroke-width="1.45" stroke-linecap="butt"/>
<text x="299.5" y="441.5" font-size="8.4" text-anchor="middle" font-weight="normal" fill="#231f20" stroke="#231f20" stroke-width="0.34">50</text>
<line x1="379.5" y1="428.6" x2="379.5" y2="431.8" stroke="#0a0a0a" stroke-width="1.45" stroke-linecap="butt"/>
<text x="379.5" y="441.5" font-size="8.4" text-anchor="middle" font-weight="normal" fill="#231f20" stroke="#231f20" stroke-width="0.34">100</text>
<line x1="459.5" y1="428.6" x2="459.5" y2="431.8" stroke="#0a0a0a" stroke-width="1.45" stroke-linecap="butt"/>
<text x="459.5" y="441.5" font-size="8.4" text-anchor="middle" font-weight="normal" fill="#231f20" stroke="#231f20" stroke-width="0.34">150</text>
<text x="340.3" y="455.2" font-size="9.3" text-anchor="middle" font-weight="normal" fill="#231f20" stroke="#231f20" stroke-width="0.34">mPTX2:Ag (% of control)</text>
<text x="182.4" y="339" font-size="9.4" text-anchor="middle" font-weight="normal" fill="#231f20" stroke="#231f20" stroke-width="0.34" transform="rotate(-90 182.4 339)">mFX:C (% of control)</text>
<line x1="258" y1="400.2" x2="441.7" y2="288.8" stroke="#6b9048" stroke-width="2.2" stroke-linecap="butt" stroke-dasharray="4 2.3"/>
<circle cx="254.6" cy="398.9" r="3.65" fill="#2f4c82" stroke="#1f3766" stroke-width="0.7"/>
<circle cx="276.1" cy="381.8" r="3.65" fill="#2f4c82" stroke="#1f3766" stroke-width="0.7"/>
<circle cx="288.1" cy="395.5" r="3.65" fill="#2f4c82" stroke="#1f3766" stroke-width="0.7"/>
<circle cx="296.8" cy="374.9" r="3.65" fill="#2f4c82" stroke="#1f3766" stroke-width="0.7"/>
<circle cx="304.4" cy="347.9" r="3.65" fill="#2f4c82" stroke="#1f3766" stroke-width="0.7"/>
<circle cx="307.2" cy="389.7" r="3.65" fill="#2f4c82" stroke="#1f3766" stroke-width="0.7"/>
<circle cx="321.3" cy="391.8" r="3.65" fill="#2f4c82" stroke="#1f3766" stroke-width="0.7"/>
<circle cx="316.9" cy="336.8" r="3.4" fill="#fff" stroke="#7e1232" stroke-width="1.35"/>
<circle cx="355" cy="328.8" r="3.4" fill="#fff" stroke="#7e1232" stroke-width="1.35"/>
<circle cx="356.8" cy="336.3" r="3.4" fill="#fff" stroke="#7e1232" stroke-width="1.35"/>
<circle cx="373.8" cy="316.3" r="3.4" fill="#fff" stroke="#7e1232" stroke-width="1.35"/>
<circle cx="387.6" cy="326.8" r="3.4" fill="#fff" stroke="#7e1232" stroke-width="1.35"/>
<circle cx="421.5" cy="306.6" r="3.4" fill="#fff" stroke="#7e1232" stroke-width="1.35"/>
<circle cx="443.6" cy="315" r="3.4" fill="#fff" stroke="#7e1232" stroke-width="1.35"/>
<circle cx="220.1" cy="286.6" r="3.4" fill="#fff" stroke="#7e1232" stroke-width="1.35"/>
<circle cx="220.1" cy="301.7" r="3.65" fill="#2f4c82" stroke="#1f3766" stroke-width="0.7"/>
<text x="230.6" y="289.2" font-size="8" text-anchor="start" font-weight="normal" fill="#231f20" stroke="#231f20" stroke-width="0.34">C57Bl/6 wt</text>
<text x="230.6" y="304.6" font-size="8" text-anchor="start" font-weight="normal" fill="#231f20" stroke="#231f20" stroke-width="0.34">SR-AI-/-</text>
<text x="263.0" y="423.1" font-size="8.05" fill="#231f20" stroke="#231f20" stroke-width="0.25" font-style="italic"><tspan font-weight="bold">Spearman r Correlation : 0.93</tspan> (p&lt;0.0001)</text>
<line x1="51.2" y1="485" x2="51.2" y2="663.2" stroke="#0a0a0a" stroke-width="1.45" stroke-linecap="butt"/>
<line x1="47.9" y1="662.6" x2="51.2" y2="662.6" stroke="#0a0a0a" stroke-width="1.45" stroke-linecap="butt"/>
<text x="44.5" y="665.1" font-size="8.5" text-anchor="end" font-weight="normal" fill="#231f20" stroke="#231f20" stroke-width="0.34">0</text>
<line x1="47.9" y1="622.6" x2="51.2" y2="622.6" stroke="#0a0a0a" stroke-width="1.45" stroke-linecap="butt"/>
<text x="44.5" y="625.1" font-size="8.5" text-anchor="end" font-weight="normal" fill="#231f20" stroke="#231f20" stroke-width="0.34">25</text>
<line x1="47.9" y1="582.6" x2="51.2" y2="582.6" stroke="#0a0a0a" stroke-width="1.45" stroke-linecap="butt"/>
<text x="44.5" y="585.1" font-size="8.5" text-anchor="end" font-weight="normal" fill="#231f20" stroke="#231f20" stroke-width="0.34">50</text>
<line x1="47.9" y1="542.6" x2="51.2" y2="542.6" stroke="#0a0a0a" stroke-width="1.45" stroke-linecap="butt"/>
<text x="44.5" y="545.1" font-size="8.5" text-anchor="end" font-weight="normal" fill="#231f20" stroke="#231f20" stroke-width="0.34">75</text>
<line x1="47.9" y1="502.6" x2="51.2" y2="502.6" stroke="#0a0a0a" stroke-width="1.45" stroke-linecap="butt"/>
<text x="44.5" y="505.1" font-size="8.5" text-anchor="end" font-weight="normal" fill="#231f20" stroke="#231f20" stroke-width="0.34">100</text>
<line x1="47.9" y1="662.6" x2="228" y2="662.6" stroke="#0a0a0a" stroke-width="1.45" stroke-linecap="butt"/>
<line x1="51.2" y1="662.6" x2="51.2" y2="666" stroke="#0a0a0a" stroke-width="1.45" stroke-linecap="butt"/>
<text x="51.2" y="676.8" font-size="8.6" text-anchor="middle" font-weight="normal" fill="#231f20" stroke="#231f20" stroke-width="0.34">0</text>
<line x1="85.2" y1="662.6" x2="85.2" y2="666" stroke="#0a0a0a" stroke-width="1.45" stroke-linecap="butt"/>
<text x="85.2" y="676.8" font-size="8.6" text-anchor="middle" font-weight="normal" fill="#231f20" stroke="#231f20" stroke-width="0.34">50</text>
<line x1="119.2" y1="662.6" x2="119.2" y2="666" stroke="#0a0a0a" stroke-width="1.45" stroke-linecap="butt"/>
<text x="119.2" y="676.8" font-size="8.6" text-anchor="middle" font-weight="normal" fill="#231f20" stroke="#231f20" stroke-width="0.34">100</text>
<line x1="153.2" y1="662.6" x2="153.2" y2="666" stroke="#0a0a0a" stroke-width="1.45" stroke-linecap="butt"/>
<text x="153.2" y="676.8" font-size="8.6" text-anchor="middle" font-weight="normal" fill="#231f20" stroke="#231f20" stroke-width="0.34">150</text>
<line x1="187.2" y1="662.6" x2="187.2" y2="666" stroke="#0a0a0a" stroke-width="1.45" stroke-linecap="butt"/>
<text x="187.2" y="676.8" font-size="8.6" text-anchor="middle" font-weight="normal" fill="#231f20" stroke="#231f20" stroke-width="0.34">200</text>
<line x1="221.2" y1="662.6" x2="221.2" y2="666" stroke="#0a0a0a" stroke-width="1.45" stroke-linecap="butt"/>
<text x="221.2" y="676.8" font-size="8.6" text-anchor="middle" font-weight="normal" fill="#231f20" stroke="#231f20" stroke-width="0.34">250</text>
<text x="139.5" y="690.6" font-size="9.3" text-anchor="middle" font-weight="normal" fill="#231f20" stroke="#231f20" stroke-width="0.34">Time (min)</text>
<text x="22.3" y="578.6" font-size="9.2" text-anchor="middle" font-weight="normal" fill="#231f20" stroke="#231f20" stroke-width="0.34" transform="rotate(-90 22.3 578.6)">Residual FX:Ag (%)</text>
<polyline points="51.2,502.6 54.6,584.68 61.4,602.2 92,617.96 214.4,636.36" stroke="#920a2e" stroke-width="2" fill="none" stroke-linejoin="round" stroke-dasharray="3.6 2.4"/>
<polyline points="51.2,502.6 54.6,556.52 61.4,582.6 92,600.52 214.4,629" stroke="#920a2e" stroke-width="2" fill="none" stroke-linejoin="round"/>
<line x1="54.6" y1="584.68" x2="54.6" y2="569.8" stroke="#0a0a0a" stroke-width="1.45" stroke-linecap="butt"/>
<line x1="51.1" y1="569.8" x2="58.1" y2="569.8" stroke="#0a0a0a" stroke-width="1.45" stroke-linecap="butt"/>
<line x1="54.6" y1="584.68" x2="54.6" y2="600.52" stroke="#0a0a0a" stroke-width="1.45" stroke-linecap="butt"/>
<line x1="51.1" y1="600.52" x2="58.1" y2="600.52" stroke="#0a0a0a" stroke-width="1.45" stroke-linecap="butt"/>
<line x1="61.4" y1="602.2" x2="61.4" y2="589" stroke="#0a0a0a" stroke-width="1.45" stroke-linecap="butt"/>
<line x1="57.9" y1="589" x2="64.9" y2="589" stroke="#0a0a0a" stroke-width="1.45" stroke-linecap="butt"/>
<line x1="61.4" y1="602.2" x2="61.4" y2="614.6" stroke="#0a0a0a" stroke-width="1.45" stroke-linecap="butt"/>
<line x1="57.9" y1="614.6" x2="64.9" y2="614.6" stroke="#0a0a0a" stroke-width="1.45" stroke-linecap="butt"/>
<line x1="92" y1="617.96" x2="92" y2="611.4" stroke="#0a0a0a" stroke-width="1.45" stroke-linecap="butt"/>
<line x1="88.5" y1="611.4" x2="95.5" y2="611.4" stroke="#0a0a0a" stroke-width="1.45" stroke-linecap="butt"/>
<line x1="92" y1="617.96" x2="92" y2="625.48" stroke="#0a0a0a" stroke-width="1.45" stroke-linecap="butt"/>
<line x1="88.5" y1="625.48" x2="95.5" y2="625.48" stroke="#0a0a0a" stroke-width="1.45" stroke-linecap="butt"/>
<line x1="54.6" y1="556.52" x2="54.6" y2="540.2" stroke="#0a0a0a" stroke-width="1.45" stroke-linecap="butt"/>
<line x1="51.1" y1="540.2" x2="58.1" y2="540.2" stroke="#0a0a0a" stroke-width="1.45" stroke-linecap="butt"/>
<line x1="92" y1="600.52" x2="92" y2="594.76" stroke="#0a0a0a" stroke-width="1.45" stroke-linecap="butt"/>
<line x1="88.5" y1="594.76" x2="95.5" y2="594.76" stroke="#0a0a0a" stroke-width="1.45" stroke-linecap="butt"/>
<line x1="92" y1="600.52" x2="92" y2="607.24" stroke="#0a0a0a" stroke-width="1.45" stroke-linecap="butt"/>
<line x1="88.5" y1="607.24" x2="95.5" y2="607.24" stroke="#0a0a0a" stroke-width="1.45" stroke-linecap="butt"/>
<circle cx="51.2" cy="502.6" r="3.5" fill="#aa0430" stroke="#8a0a2a" stroke-width="0.6"/>
<circle cx="54.6" cy="556.52" r="3.5" fill="#aa0430" stroke="#8a0a2a" stroke-width="0.6"/>
<circle cx="61.4" cy="582.6" r="3.5" fill="#aa0430" stroke="#8a0a2a" stroke-width="0.6"/>
<circle cx="92" cy="600.52" r="3.5" fill="#aa0430" stroke="#8a0a2a" stroke-width="0.6"/>
<circle cx="214.4" cy="629" r="3.5" fill="#aa0430" stroke="#8a0a2a" stroke-width="0.6"/>
<circle cx="51.2" cy="502.6" r="3.25" fill="#fff" stroke="#980c30" stroke-width="1.45"/>
<circle cx="54.6" cy="584.68" r="3.25" fill="#fff" stroke="#980c30" stroke-width="1.45"/>
<circle cx="61.4" cy="602.2" r="3.25" fill="#fff" stroke="#980c30" stroke-width="1.45"/>
<circle cx="92" cy="617.96" r="3.25" fill="#fff" stroke="#980c30" stroke-width="1.45"/>
<circle cx="214.4" cy="636.36" r="3.25" fill="#fff" stroke="#980c30" stroke-width="1.45"/>
<line x1="287" y1="485" x2="287" y2="663.2" stroke="#0a0a0a" stroke-width="1.45" stroke-linecap="butt"/>
<line x1="283.7" y1="662.6" x2="287" y2="662.6" stroke="#0a0a0a" stroke-width="1.45" stroke-linecap="butt"/>
<text x="280.3" y="665.1" font-size="8.5" text-anchor="end" font-weight="normal" fill="#231f20" stroke="#231f20" stroke-width="0.34">0</text>
<line x1="283.7" y1="622.6" x2="287" y2="622.6" stroke="#0a0a0a" stroke-width="1.45" stroke-linecap="butt"/>
<text x="280.3" y="625.1" font-size="8.5" text-anchor="end" font-weight="normal" fill="#231f20" stroke="#231f20" stroke-width="0.34">25</text>
<line x1="283.7" y1="582.6" x2="287" y2="582.6" stroke="#0a0a0a" stroke-width="1.45" stroke-linecap="butt"/>
<text x="280.3" y="585.1" font-size="8.5" text-anchor="end" font-weight="normal" fill="#231f20" stroke="#231f20" stroke-width="0.34">50</text>
<line x1="283.7" y1="542.6" x2="287" y2="542.6" stroke="#0a0a0a" stroke-width="1.45" stroke-linecap="butt"/>
<text x="280.3" y="545.1" font-size="8.5" text-anchor="end" font-weight="normal" fill="#231f20" stroke="#231f20" stroke-width="0.34">75</text>
<line x1="283.7" y1="502.6" x2="287" y2="502.6" stroke="#0a0a0a" stroke-width="1.45" stroke-linecap="butt"/>
<text x="280.3" y="505.1" font-size="8.5" text-anchor="end" font-weight="normal" fill="#231f20" stroke="#231f20" stroke-width="0.34">100</text>
<line x1="283.7" y1="662.6" x2="463.8" y2="662.6" stroke="#0a0a0a" stroke-width="1.45" stroke-linecap="butt"/>
<line x1="287" y1="662.6" x2="287" y2="666" stroke="#0a0a0a" stroke-width="1.45" stroke-linecap="butt"/>
<text x="287" y="676.8" font-size="8.6" text-anchor="middle" font-weight="normal" fill="#231f20" stroke="#231f20" stroke-width="0.34">0</text>
<line x1="321" y1="662.6" x2="321" y2="666" stroke="#0a0a0a" stroke-width="1.45" stroke-linecap="butt"/>
<text x="321" y="676.8" font-size="8.6" text-anchor="middle" font-weight="normal" fill="#231f20" stroke="#231f20" stroke-width="0.34">50</text>
<line x1="355" y1="662.6" x2="355" y2="666" stroke="#0a0a0a" stroke-width="1.45" stroke-linecap="butt"/>
<text x="355" y="676.8" font-size="8.6" text-anchor="middle" font-weight="normal" fill="#231f20" stroke="#231f20" stroke-width="0.34">100</text>
<line x1="389" y1="662.6" x2="389" y2="666" stroke="#0a0a0a" stroke-width="1.45" stroke-linecap="butt"/>
<text x="389" y="676.8" font-size="8.6" text-anchor="middle" font-weight="normal" fill="#231f20" stroke="#231f20" stroke-width="0.34">150</text>
<line x1="423" y1="662.6" x2="423" y2="666" stroke="#0a0a0a" stroke-width="1.45" stroke-linecap="butt"/>
<text x="423" y="676.8" font-size="8.6" text-anchor="middle" font-weight="normal" fill="#231f20" stroke="#231f20" stroke-width="0.34">200</text>
<line x1="457" y1="662.6" x2="457" y2="666" stroke="#0a0a0a" stroke-width="1.45" stroke-linecap="butt"/>
<text x="457" y="676.8" font-size="8.6" text-anchor="middle" font-weight="normal" fill="#231f20" stroke="#231f20" stroke-width="0.34">250</text>
<text x="375.3" y="690.6" font-size="9.3" text-anchor="middle" font-weight="normal" fill="#231f20" stroke="#231f20" stroke-width="0.34">Time (min)</text>
<text x="260.1" y="578.6" font-size="9.2" text-anchor="middle" font-weight="normal" fill="#231f20" stroke="#231f20" stroke-width="0.34" transform="rotate(-90 260.1 578.6)">Residual FX:Ag (%)</text>
<polyline points="287,502.6 290.4,575.56 297.2,602.6 327.8,624.84 450.2,655.24" stroke="#920a2e" stroke-width="2" fill="none" stroke-linejoin="round" stroke-dasharray="3.6 2.4"/>
<polyline points="287,502.6 290.4,580.04 297.2,602.92 327.8,629 450.2,655.88" stroke="#920a2e" stroke-width="2" fill="none" stroke-linejoin="round"/>
<polyline points="287,502.6 290.4,556.52 297.2,582.6 327.8,600.84 450.2,629.64" stroke="#920a2e" stroke-width="2" fill="none" stroke-linejoin="round"/>
<line x1="290.4" y1="575.56" x2="290.4" y2="568.36" stroke="#0a0a0a" stroke-width="1.45" stroke-linecap="butt"/>
<line x1="286.9" y1="568.36" x2="293.9" y2="568.36" stroke="#0a0a0a" stroke-width="1.45" stroke-linecap="butt"/>
<line x1="297.2" y1="602.6" x2="297.2" y2="592.36" stroke="#0a0a0a" stroke-width="1.45" stroke-linecap="butt"/>
<line x1="293.7" y1="592.36" x2="300.7" y2="592.36" stroke="#0a0a0a" stroke-width="1.45" stroke-linecap="butt"/>
<line x1="327.8" y1="624.84" x2="327.8" y2="617.96" stroke="#0a0a0a" stroke-width="1.45" stroke-linecap="butt"/>
<line x1="324.3" y1="617.96" x2="331.3" y2="617.96" stroke="#0a0a0a" stroke-width="1.45" stroke-linecap="butt"/>
<line x1="450.2" y1="655.24" x2="450.2" y2="648.84" stroke="#0a0a0a" stroke-width="1.45" stroke-linecap="butt"/>
<line x1="446.7" y1="648.84" x2="453.7" y2="648.84" stroke="#0a0a0a" stroke-width="1.45" stroke-linecap="butt"/>
<line x1="290.4" y1="580.04" x2="290.4" y2="570.44" stroke="#0a0a0a" stroke-width="1.45" stroke-linecap="butt"/>
<line x1="286.9" y1="570.44" x2="293.9" y2="570.44" stroke="#0a0a0a" stroke-width="1.45" stroke-linecap="butt"/>
<line x1="297.2" y1="602.92" x2="297.2" y2="597.32" stroke="#0a0a0a" stroke-width="1.45" stroke-linecap="butt"/>
<line x1="293.7" y1="597.32" x2="300.7" y2="597.32" stroke="#0a0a0a" stroke-width="1.45" stroke-linecap="butt"/>
<line x1="290.4" y1="556.52" x2="290.4" y2="540.2" stroke="#0a0a0a" stroke-width="1.45" stroke-linecap="butt"/>
<line x1="286.9" y1="540.2" x2="293.9" y2="540.2" stroke="#0a0a0a" stroke-width="1.45" stroke-linecap="butt"/>
<line x1="327.8" y1="600.84" x2="327.8" y2="594.92" stroke="#0a0a0a" stroke-width="1.45" stroke-linecap="butt"/>
<line x1="324.3" y1="594.92" x2="331.3" y2="594.92" stroke="#0a0a0a" stroke-width="1.45" stroke-linecap="butt"/>
<line x1="327.8" y1="600.84" x2="327.8" y2="606.6" stroke="#0a0a0a" stroke-width="1.45" stroke-linecap="butt"/>
<line x1="324.3" y1="606.6" x2="331.3" y2="606.6" stroke="#0a0a0a" stroke-width="1.45" stroke-linecap="butt"/>
<circle cx="287" cy="502.6" r="3.5" fill="#aa0430" stroke="#8a0a2a" stroke-width="0.6"/>
<circle cx="290.4" cy="556.52" r="3.5" fill="#aa0430" stroke="#8a0a2a" stroke-width="0.6"/>
<circle cx="297.2" cy="582.6" r="3.5" fill="#aa0430" stroke="#8a0a2a" stroke-width="0.6"/>
<circle cx="327.8" cy="600.84" r="3.5" fill="#aa0430" stroke="#8a0a2a" stroke-width="0.6"/>
<circle cx="450.2" cy="629.64" r="3.5" fill="#aa0430" stroke="#8a0a2a" stroke-width="0.6"/>
<polygon points="287,497.8 283.1,506 290.9,506" fill="#aa0430"/>
<polygon points="290.4,575.24 286.5,583.44 294.3,583.44" fill="#aa0430"/>
<polygon points="297.2,598.12 293.3,606.32 301.1,606.32" fill="#aa0430"/>
<polygon points="327.8,624.2 323.9,632.4 331.7,632.4" fill="#aa0430"/>
<polygon points="450.2,651.08 446.3,659.28 454.1,659.28" fill="#aa0430"/>
<polygon points="287,498.9 284.1,505 289.9,505" fill="#fff" stroke="#aa0430" stroke-width="1.45" stroke-linejoin="miter"/>
<polygon points="290.4,571.86 287.5,577.96 293.3,577.96" fill="#fff" stroke="#aa0430" stroke-width="1.45" stroke-linejoin="miter"/>
<polygon points="297.2,598.9 294.3,605 300.1,605" fill="#fff" stroke="#aa0430" stroke-width="1.45" stroke-linejoin="miter"/>
<polygon points="327.8,621.14 324.9,627.24 330.7,627.24" fill="#fff" stroke="#aa0430" stroke-width="1.45" stroke-linejoin="miter"/>
<polygon points="450.2,651.54 447.3,657.64 453.1,657.64" fill="#fff" stroke="#aa0430" stroke-width="1.45" stroke-linejoin="miter"/>
<line x1="183.5" y1="486.2" x2="183.5" y2="575.7" stroke="#0a0a0a" stroke-width="1.45" stroke-linecap="butt"/>
<line x1="180.2" y1="575.1" x2="183.5" y2="575.1" stroke="#0a0a0a" stroke-width="1.45" stroke-linecap="butt"/>
<text x="177.3" y="578.1" font-size="8.6" text-anchor="end" font-weight="normal" fill="#231f20" stroke="#231f20" stroke-width="0.34">20</text>
<line x1="180.2" y1="555.35" x2="183.5" y2="555.35" stroke="#0a0a0a" stroke-width="1.45" stroke-linecap="butt"/>
<text x="177.3" y="558.35" font-size="8.6" text-anchor="end" font-weight="normal" fill="#231f20" stroke="#231f20" stroke-width="0.34">40</text>
<line x1="180.2" y1="535.6" x2="183.5" y2="535.6" stroke="#0a0a0a" stroke-width="1.45" stroke-linecap="butt"/>
<text x="177.3" y="538.6" font-size="8.6" text-anchor="end" font-weight="normal" fill="#231f20" stroke="#231f20" stroke-width="0.34">60</text>
<line x1="180.2" y1="515.85" x2="183.5" y2="515.85" stroke="#0a0a0a" stroke-width="1.45" stroke-linecap="butt"/>
<text x="177.3" y="518.85" font-size="8.6" text-anchor="end" font-weight="normal" fill="#231f20" stroke="#231f20" stroke-width="0.34">80</text>
<line x1="180.2" y1="496.1" x2="183.5" y2="496.1" stroke="#0a0a0a" stroke-width="1.45" stroke-linecap="butt"/>
<text x="177.3" y="499.1" font-size="8.6" text-anchor="end" font-weight="normal" fill="#231f20" stroke="#231f20" stroke-width="0.34">100</text>
<line x1="180.2" y1="575.1" x2="227.8" y2="575.1" stroke="#0a0a0a" stroke-width="1.45" stroke-linecap="butt"/>
<line x1="194.3" y1="575.1" x2="194.3" y2="578.3" stroke="#0a0a0a" stroke-width="1.45" stroke-linecap="butt"/>
<line x1="216.6" y1="575.1" x2="216.6" y2="578.3" stroke="#0a0a0a" stroke-width="1.45" stroke-linecap="butt"/>
<text x="156.8" y="530.5" font-size="9.6" text-anchor="middle" font-weight="normal" fill="#231f20" stroke="#231f20" stroke-width="0.34" transform="rotate(-90 156.8 530.5)">% of recovery</text>
<line x1="194.1" y1="511.6" x2="194.1" y2="522.17" stroke="#0a0a0a" stroke-width="1.45" stroke-linecap="butt"/>
<line x1="194.1" y1="535.7" x2="194.1" y2="552.29" stroke="#0a0a0a" stroke-width="1.45" stroke-linecap="butt"/>
<line x1="190.8" y1="511.6" x2="197.4" y2="511.6" stroke="#0a0a0a" stroke-width="1.45" stroke-linecap="butt"/>
<line x1="190.8" y1="552.29" x2="197.4" y2="552.29" stroke="#0a0a0a" stroke-width="1.45" stroke-linecap="butt"/>
<rect x="187.5" y="522.47" width="13.2" height="12.93" fill="#aa0430" stroke="#7a0020" stroke-width="0.7"/>
<line x1="187.7" y1="529.38" x2="200.5" y2="529.38" stroke="#3a0012" stroke-width="1.8" stroke-linecap="butt"/>
<line x1="216.45" y1="528.69" x2="216.45" y2="540.24" stroke="#0a0a0a" stroke-width="1.45" stroke-linecap="butt"/>
<line x1="216.45" y1="556.04" x2="216.45" y2="564.04" stroke="#0a0a0a" stroke-width="1.45" stroke-linecap="butt"/>
<line x1="213.15" y1="528.69" x2="219.75" y2="528.69" stroke="#0a0a0a" stroke-width="1.45" stroke-linecap="butt"/>
<line x1="213.15" y1="564.04" x2="219.75" y2="564.04" stroke="#0a0a0a" stroke-width="1.45" stroke-linecap="butt"/>
<rect x="210.2" y="540.84" width="12.5" height="14.6" fill="#fff" stroke="#8e0f30" stroke-width="1.2"/>
<line x1="210.8" y1="543.99" x2="222.1" y2="543.99" stroke="#111" stroke-width="1.4" stroke-linecap="butt"/>
<line x1="194" y1="504.4" x2="216.7" y2="504.4" stroke="#0a0a0a" stroke-width="1.4" stroke-linecap="butt"/>
<circle cx="201.05" cy="498.8" r="1.3" fill="#111"/>
<circle cx="205.2" cy="498.8" r="1.3" fill="#111"/>
<circle cx="209.35" cy="498.8" r="1.3" fill="#111"/>
<text x="204.7" y="572.8" font-size="8.4" text-anchor="middle" font-weight="normal" fill="#231f20" stroke="#231f20" stroke-width="0.34">FX</text>
<text x="198.2" y="597.2" font-size="9" text-anchor="middle" font-weight="normal" fill="#231f20" stroke="#231f20" stroke-width="0.34" transform="rotate(-90 198.2 597.2)">C57Bl/6</text>
<text x="221.3" y="596.4" font-size="8.8" text-anchor="middle" fill="#231f20" stroke="#231f20" stroke-width="0.34" transform="rotate(-90 221.3 596.4)">SR-AI<tspan font-size="4.6" dy="-3.6">-/-</tspan></text>
<line x1="396.9" y1="486.2" x2="396.9" y2="575.7" stroke="#0a0a0a" stroke-width="1.45" stroke-linecap="butt"/>
<line x1="393.6" y1="575.1" x2="396.9" y2="575.1" stroke="#0a0a0a" stroke-width="1.45" stroke-linecap="butt"/>
<text x="390.7" y="578.1" font-size="8.6" text-anchor="end" font-weight="normal" fill="#231f20" stroke="#231f20" stroke-width="0.34">20</text>
<line x1="393.6" y1="555.35" x2="396.9" y2="555.35" stroke="#0a0a0a" stroke-width="1.45" stroke-linecap="butt"/>
<text x="390.7" y="558.35" font-size="8.6" text-anchor="end" font-weight="normal" fill="#231f20" stroke="#231f20" stroke-width="0.34">40</text>
<line x1="393.6" y1="535.6" x2="396.9" y2="535.6" stroke="#0a0a0a" stroke-width="1.45" stroke-linecap="butt"/>
<text x="390.7" y="538.6" font-size="8.6" text-anchor="end" font-weight="normal" fill="#231f20" stroke="#231f20" stroke-width="0.34">60</text>
<line x1="393.6" y1="515.85" x2="396.9" y2="515.85" stroke="#0a0a0a" stroke-width="1.45" stroke-linecap="butt"/>
<text x="390.7" y="518.85" font-size="8.6" text-anchor="end" font-weight="normal" fill="#231f20" stroke="#231f20" stroke-width="0.34">80</text>
<line x1="393.6" y1="496.1" x2="396.9" y2="496.1" stroke="#0a0a0a" stroke-width="1.45" stroke-linecap="butt"/>
<text x="390.7" y="499.1" font-size="8.6" text-anchor="end" font-weight="normal" fill="#231f20" stroke="#231f20" stroke-width="0.34">100</text>
<line x1="393.6" y1="575.1" x2="463.6" y2="575.1" stroke="#0a0a0a" stroke-width="1.45" stroke-linecap="butt"/>
<line x1="408" y1="575.1" x2="408" y2="578.3" stroke="#0a0a0a" stroke-width="1.45" stroke-linecap="butt"/>
<line x1="429.6" y1="575.1" x2="429.6" y2="578.3" stroke="#0a0a0a" stroke-width="1.45" stroke-linecap="butt"/>
<line x1="452.6" y1="575.1" x2="452.6" y2="578.3" stroke="#0a0a0a" stroke-width="1.45" stroke-linecap="butt"/>
<text x="370.3" y="530.5" font-size="9.6" text-anchor="middle" font-weight="normal" fill="#231f20" stroke="#231f20" stroke-width="0.34" transform="rotate(-90 370.3 530.5)">% of recovery</text>
<line x1="407.8" y1="511.5" x2="407.8" y2="521.87" stroke="#0a0a0a" stroke-width="1.45" stroke-linecap="butt"/>
<line x1="407.8" y1="535.8" x2="407.8" y2="551.89" stroke="#0a0a0a" stroke-width="1.45" stroke-linecap="butt"/>
<line x1="404.5" y1="511.5" x2="411.1" y2="511.5" stroke="#0a0a0a" stroke-width="1.45" stroke-linecap="butt"/>
<line x1="404.5" y1="551.89" x2="411.1" y2="551.89" stroke="#0a0a0a" stroke-width="1.45" stroke-linecap="butt"/>
<rect x="401.2" y="522.17" width="13.2" height="13.32" fill="#aa0430" stroke="#7a0020" stroke-width="0.7"/>
<line x1="401.4" y1="528.79" x2="414.2" y2="528.79" stroke="#3a0012" stroke-width="1.8" stroke-linecap="butt"/>
<line x1="429.8" y1="536.49" x2="429.8" y2="538.46" stroke="#0a0a0a" stroke-width="1.45" stroke-linecap="butt"/>
<line x1="429.8" y1="548.44" x2="429.8" y2="551.7" stroke="#0a0a0a" stroke-width="1.45" stroke-linecap="butt"/>
<line x1="426.5" y1="536.49" x2="433.1" y2="536.49" stroke="#0a0a0a" stroke-width="1.45" stroke-linecap="butt"/>
<line x1="426.5" y1="551.7" x2="433.1" y2="551.7" stroke="#0a0a0a" stroke-width="1.45" stroke-linecap="butt"/>
<rect x="423.7" y="539.06" width="12.2" height="8.77" fill="#fff" stroke="#8e0f30" stroke-width="1.2"/>
<line x1="424.3" y1="543.4" x2="435.3" y2="543.4" stroke="#111" stroke-width="1.4" stroke-linecap="butt"/>
<line x1="452.6" y1="534.61" x2="452.6" y2="536.88" stroke="#0a0a0a" stroke-width="1.45" stroke-linecap="butt"/>
<line x1="452.6" y1="543.89" x2="452.6" y2="546.56" stroke="#0a0a0a" stroke-width="1.45" stroke-linecap="butt"/>
<line x1="449.3" y1="534.61" x2="455.9" y2="534.61" stroke="#0a0a0a" stroke-width="1.45" stroke-linecap="butt"/>
<line x1="449.3" y1="546.56" x2="455.9" y2="546.56" stroke="#0a0a0a" stroke-width="1.45" stroke-linecap="butt"/>
<rect x="446.3" y="537.48" width="12.6" height="5.81" fill="#fff" stroke="#8e0f30" stroke-width="1.2"/>
<line x1="446.9" y1="540.44" x2="458.3" y2="540.44" stroke="#111" stroke-width="1.4" stroke-linecap="butt"/>
<line x1="408" y1="494.2" x2="453" y2="494.2" stroke="#0a0a0a" stroke-width="1.4" stroke-linecap="butt"/>
<circle cx="428.4" cy="488.9" r="1.3" fill="#111"/>
<line x1="408" y1="504.6" x2="430" y2="504.6" stroke="#0a0a0a" stroke-width="1.4" stroke-linecap="butt"/>
<circle cx="416.53" cy="498.9" r="1.3" fill="#111"/>
<circle cx="420.68" cy="498.9" r="1.3" fill="#111"/>
<line x1="430" y1="520.3" x2="452.6" y2="520.3" stroke="#0a0a0a" stroke-width="1.4" stroke-linecap="butt"/>
<text x="441.2" y="518" font-size="8.6" text-anchor="middle" font-weight="normal" fill="#231f20" stroke="#231f20" stroke-width="0.34">NS</text>
<text x="408" y="573" font-size="8.3" text-anchor="middle" font-weight="normal" fill="#231f20" stroke="#231f20" stroke-width="0.34">FX</text>
<text x="427.3" y="573" font-size="8.3" text-anchor="middle" font-weight="normal" fill="#231f20" stroke="#231f20" stroke-width="0.34">FX</text>
<text x="449.2" y="573" font-size="8.3" text-anchor="middle" font-weight="normal" fill="#231f20" stroke="#231f20" stroke-width="0.34">N181A</text>
<text x="411.4" y="596.8" font-size="9" text-anchor="middle" font-weight="normal" fill="#231f20" stroke="#231f20" stroke-width="0.34" transform="rotate(-90 411.4 596.8)">C57Bl/6</text>
<text x="433.5" y="596.8" font-size="9" text-anchor="middle" font-weight="normal" fill="#231f20" stroke="#231f20" stroke-width="0.34" transform="rotate(-90 433.5 596.8)">C57Bl/6</text>
<text x="456" y="596" font-size="8.8" text-anchor="middle" fill="#231f20" stroke="#231f20" stroke-width="0.34" transform="rotate(-90 456 596)">SR-AI<tspan font-size="4.6" dy="-3.6">-/-</tspan></text>
<rect x="0" y="0" width="520" height="1.35" fill="#000"/>
<rect x="0" y="0" width="1.6" height="701" fill="#000"/>
<rect x="518.4" y="0" width="1.6" height="701" fill="#000"/>
<rect x="0" y="699.3" width="520" height="1.7" fill="#000"/>
</svg>
</body></html>
